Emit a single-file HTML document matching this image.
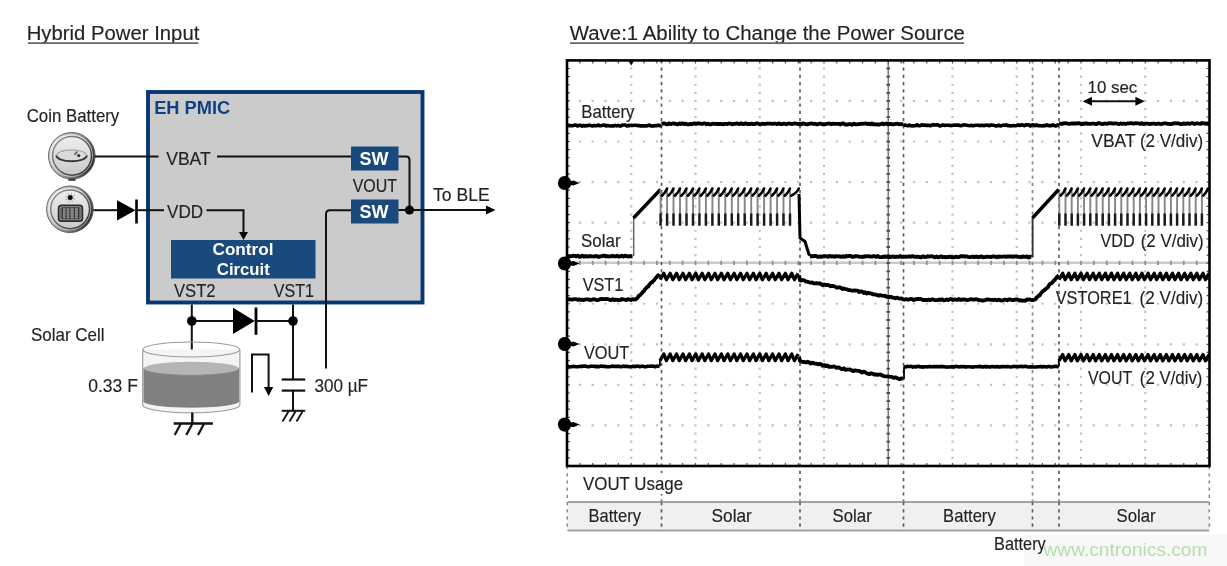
<!DOCTYPE html>
<html><head><meta charset="utf-8"><title>Hybrid Power Input</title>
<style>
html,body{margin:0;padding:0;background:#fff;width:1227px;height:566px;overflow:hidden}
svg{display:block;filter:blur(0.5px)}
text{font-family:"Liberation Sans",sans-serif}
</style></head><body>
<svg width="1227" height="566" viewBox="0 0 1227 566">
<text x="26.7" y="40" font-size="20" fill="#232323" font-weight="normal" text-anchor="start" stroke="#232323" stroke-width="0.15" textLength="172.64" lengthAdjust="spacingAndGlyphs" >Hybrid Power Input</text>
<line x1="28" y1="43.1" x2="198.5" y2="43.1" stroke="#666" stroke-width="1.6" />
<text x="26.66" y="121.6" font-size="17.8" fill="#232323" font-weight="normal" text-anchor="start" stroke="#232323" stroke-width="0.15" textLength="92.62" lengthAdjust="spacingAndGlyphs" >Coin Battery</text>
<rect x="148" y="92" width="274.5" height="210.5" fill="#cbcbcb" stroke="#073875" stroke-width="3.9"/>
<text x="154.2" y="114.3" font-size="18.4" fill="#0f4284" font-weight="bold" text-anchor="start" textLength="76" lengthAdjust="spacingAndGlyphs" >EH PMIC</text>
<defs>
<linearGradient id="ring" x1="0" y1="0.3" x2="1" y2="0.7"><stop offset="0" stop-color="#dedede"/><stop offset="0.5" stop-color="#9a9a9a"/><stop offset="1" stop-color="#262626"/></linearGradient>
<linearGradient id="band" x1="0" y1="0" x2="1" y2="1"><stop offset="0" stop-color="#f6f6f6"/><stop offset="1" stop-color="#bcbcbc"/></linearGradient>
<linearGradient id="iring" x1="0" y1="0" x2="1" y2="1"><stop offset="0" stop-color="#9a9a9a"/><stop offset="1" stop-color="#2a2a2a"/></linearGradient>
<linearGradient id="face" x1="0" y1="0" x2="0" y2="1"><stop offset="0" stop-color="#efefef"/><stop offset="1" stop-color="#c9c9c9"/></linearGradient>
</defs>
<circle cx="71.8" cy="155.8" r="23.3" fill="url(#ring)" stroke="#555" stroke-width="0.9"/>
<circle cx="71.5" cy="155.5" r="21.3" fill="url(#band)"/>
<circle cx="72.0" cy="155.8" r="19.4" fill="url(#face)" stroke="url(#iring)" stroke-width="1.5"/>
<ellipse cx="71.6" cy="155.6" rx="15.2" ry="5.7" fill="#dadada"/>
<path d="M56.4 155.6 A15.2 5.7 0 0 1 86.8 155.6" fill="none" stroke="#9a9a9a" stroke-width="1"/>
<path d="M56.4 155.6 A15.2 5.7 0 0 0 86.8 155.6" fill="none" stroke="#3a3a3a" stroke-width="2"/>
<path d="M74.5 154.8 L77.4 151.5" stroke="#555" stroke-width="1.5"/>
<path d="M62 151 l4 -0.6" stroke="#aaa" stroke-width="1"/>
<circle cx="78.7" cy="155.6" r="1.6" fill="#333"/>
<rect x="68.3" y="178.6" width="7.2" height="2.2" fill="#3a3a3a"/>
<circle cx="69.9" cy="209.3" r="23.3" fill="url(#ring)" stroke="#555" stroke-width="0.9"/>
<circle cx="69.60000000000001" cy="209.0" r="21.3" fill="url(#band)"/>
<circle cx="70.10000000000001" cy="209.3" r="19.4" fill="url(#face)" stroke="url(#iring)" stroke-width="1.5"/>
<rect x="58.6" y="205.4" width="23.8" height="15.8" rx="3" fill="#9c9c9c" stroke="#2a2a2a" stroke-width="1.7"/>
<rect x="61" y="207.7" width="19" height="11.2" rx="1" fill="#8e8e8e" stroke="#444" stroke-width="1"/>
<line x1="62.3" y1="207.7" x2="62.3" y2="218.9" stroke="#2f2f2f" stroke-width="1.1" />
<line x1="66.1" y1="207.7" x2="66.1" y2="218.9" stroke="#2f2f2f" stroke-width="1.1" />
<line x1="69.8" y1="207.7" x2="69.8" y2="218.9" stroke="#2f2f2f" stroke-width="1.1" />
<line x1="74.4" y1="207.7" x2="74.4" y2="218.9" stroke="#2f2f2f" stroke-width="1.1" />
<line x1="78.5" y1="207.7" x2="78.5" y2="218.9" stroke="#2f2f2f" stroke-width="1.1" />
<line x1="61" y1="210.6" x2="80" y2="210.6" stroke="#555" stroke-width="0.6" />
<line x1="61" y1="213.3" x2="80" y2="213.3" stroke="#555" stroke-width="0.6" />
<line x1="61" y1="216.1" x2="80" y2="216.1" stroke="#555" stroke-width="0.6" />
<circle cx="70.2" cy="197.6" r="2.5" fill="#0a0a0a"/>
<line x1="73.25707676520194" y1="198.5456646613163" x2="74.97668244562803" y2="199.07760103330668" stroke="#888" stroke-width="0.8" />
<line x1="71.6929938165369" y1="200.43036560602735" x2="72.53280283833891" y2="202.02244625941773" stroke="#888" stroke-width="0.8" />
<line x1="69.25433533868372" y1="200.65707676520194" x2="68.7223989666933" y2="202.37668244562803" stroke="#888" stroke-width="0.8" />
<line x1="67.36963439397265" y1="199.0929938165369" x2="65.77755374058226" y2="199.93280283833892" stroke="#888" stroke-width="0.8" />
<line x1="67.14292323479806" y1="196.65433533868372" x2="65.42331755437198" y2="196.1223989666933" stroke="#888" stroke-width="0.8" />
<line x1="68.70700618346311" y1="194.76963439397264" x2="67.8671971616611" y2="193.17755374058225" stroke="#888" stroke-width="0.8" />
<line x1="71.14566466131629" y1="194.54292323479805" x2="71.6776010333067" y2="192.82331755437195" stroke="#888" stroke-width="0.8" />
<line x1="73.03036560602736" y1="196.10700618346308" x2="74.62244625941774" y2="195.26719716166107" stroke="#888" stroke-width="0.8" />
<line x1="95" y1="156.5" x2="158.5" y2="156.5" stroke="#111" stroke-width="2" />
<text x="166.22" y="165.2" font-size="17.8" fill="#232323" font-weight="normal" text-anchor="start" stroke="#232323" stroke-width="0.15" textLength="44.5" lengthAdjust="spacingAndGlyphs" >VBAT</text>
<line x1="217" y1="156.5" x2="351" y2="156.5" stroke="#111" stroke-width="2" />
<line x1="93.5" y1="210.2" x2="117" y2="210.2" stroke="#111" stroke-width="2" />
<path d="M117 200.2 L135.5 210.2 L117 220.4 Z" fill="#000"/>
<line x1="136.5" y1="199.5" x2="136.5" y2="223.5" stroke="#000" stroke-width="2.6" />
<line x1="136.5" y1="210.2" x2="164" y2="210.2" stroke="#111" stroke-width="2" />
<text x="167.0" y="217.8" font-size="17.8" fill="#232323" font-weight="normal" text-anchor="start" stroke="#232323" stroke-width="0.15" textLength="36.12" lengthAdjust="spacingAndGlyphs" >VDD</text>
<path d="M206.5 210.2 H243.5 V234" fill="none" stroke="#111" stroke-width="2"/>
<path d="M239 232 L248 232 L243.5 240 Z" fill="#000"/>
<rect x="351" y="146.5" width="47.5" height="24" fill="#1a4a7d"/>
<rect x="351" y="199.5" width="47.5" height="24" fill="#1a4a7d"/>
<text x="374" y="165.4" font-size="18.2" fill="#fff" font-weight="bold" text-anchor="middle" textLength="29" lengthAdjust="spacingAndGlyphs" >SW</text>
<text x="374" y="218.4" font-size="18.2" fill="#fff" font-weight="bold" text-anchor="middle" textLength="29" lengthAdjust="spacingAndGlyphs" >SW</text>
<text x="352.72" y="191.7" font-size="17.8" fill="#232323" font-weight="normal" text-anchor="start" stroke="#232323" stroke-width="0.15" textLength="44.28" lengthAdjust="spacingAndGlyphs" >VOUT</text>
<path d="M398.5 156.6 H406 Q409.5 156.6 409.5 160 V210" fill="none" stroke="#111" stroke-width="2"/>
<circle cx="409.5" cy="210" r="4.6" fill="#000"/>
<line x1="398.5" y1="210" x2="487" y2="210" stroke="#111" stroke-width="2" />
<path d="M486 205.6 L495.5 210 L486 214.4 Z" fill="#000"/>
<text x="433.0" y="201.2" font-size="17.8" fill="#232323" font-weight="normal" text-anchor="start" stroke="#232323" stroke-width="0.15" textLength="56.68" lengthAdjust="spacingAndGlyphs" >To BLE</text>
<path d="M351 210.2 H330 Q326 210.2 326 214 V368.5" fill="none" stroke="#111" stroke-width="2"/>
<rect x="171" y="240" width="144.5" height="38.5" fill="#1a4a7d"/>
<text x="243" y="254.7" font-size="17.4" fill="#fff" font-weight="bold" text-anchor="middle" textLength="61" lengthAdjust="spacingAndGlyphs" >Control</text>
<text x="243.3" y="274.5" font-size="17.4" fill="#fff" font-weight="bold" text-anchor="middle" textLength="53" lengthAdjust="spacingAndGlyphs" >Circuit</text>
<text x="173.94" y="297" font-size="17.8" fill="#232323" font-weight="normal" text-anchor="start" stroke="#232323" stroke-width="0.15" textLength="41.62" lengthAdjust="spacingAndGlyphs" >VST2</text>
<text x="273.72" y="297" font-size="17.8" fill="#232323" font-weight="normal" text-anchor="start" stroke="#232323" stroke-width="0.15" textLength="40.18" lengthAdjust="spacingAndGlyphs" >VST1</text>
<line x1="191.8" y1="304.5" x2="191.8" y2="352" stroke="#111" stroke-width="2" />
<line x1="293" y1="304.5" x2="293" y2="379.5" stroke="#111" stroke-width="2" />
<line x1="191.8" y1="321" x2="233" y2="321" stroke="#111" stroke-width="2" />
<path d="M233 307.8 L254.8 321 L233 334 Z" fill="#000"/>
<line x1="256" y1="307.5" x2="256" y2="334.8" stroke="#000" stroke-width="2.8" />
<line x1="256" y1="321" x2="293" y2="321" stroke="#111" stroke-width="2" />
<circle cx="191.8" cy="321" r="4.8" fill="#000"/>
<circle cx="293" cy="321" r="4.8" fill="#000"/>
<text x="31.04" y="341" font-size="17.8" fill="#232323" font-weight="normal" text-anchor="start" stroke="#232323" stroke-width="0.15" textLength="73.58" lengthAdjust="spacingAndGlyphs" >Solar Cell</text>
<text x="88.22" y="391.8" font-size="17.8" fill="#232323" font-weight="normal" text-anchor="start" stroke="#232323" stroke-width="0.15" textLength="49.68" lengthAdjust="spacingAndGlyphs" >0.33 F</text>
<text x="314.54" y="391.5" font-size="17.8" fill="#232323" font-weight="normal" text-anchor="start" stroke="#232323" stroke-width="0.15" textLength="53.52" lengthAdjust="spacingAndGlyphs" >300 µF</text>
<path d="M142.70000000000002 349.5 V405 A48.6 7.8 0 0 0 239.9 405 V349.5" fill="#f4f4f4" stroke="#9a9a9a" stroke-width="1.1"/>
<path d="M143.50000000000003 368.5 V401 A47.800000000000004 6.2 0 0 0 239.1 401 V368.5 Z" fill="#808080"/>
<ellipse cx="191.3" cy="368.5" rx="47.800000000000004" ry="6.8" fill="#b5b5b5"/>
<path d="M143.50000000000003 368.5 A47.800000000000004 6.8 0 0 0 239.1 368.5" fill="none" stroke="#8a8a8a" stroke-width="1"/>
<path d="M143.50000000000003 401 A47.800000000000004 6.2 0 0 0 239.1 401" fill="none" stroke="#777" stroke-width="0.8"/>
<ellipse cx="191.3" cy="349.5" rx="48.6" ry="7.5" fill="none" stroke="#9a9a9a" stroke-width="1.1"/>
<line x1="192.3" y1="412.5" x2="192.3" y2="423.5" stroke="#111" stroke-width="2.4" />
<line x1="173.7" y1="423.5" x2="212.9" y2="423.5" stroke="#111" stroke-width="2.4" />
<line x1="180.6" y1="424" x2="174.7" y2="435.1" stroke="#111" stroke-width="2.2" />
<line x1="192.2" y1="424" x2="186.29999999999998" y2="435.1" stroke="#111" stroke-width="2.2" />
<line x1="203.9" y1="424" x2="198.0" y2="435.1" stroke="#111" stroke-width="2.2" />
<path d="M252 392.5 V354.5 H268.6 V388" fill="none" stroke="#111" stroke-width="2"/>
<path d="M264 387 L273.2 387 L268.6 396 Z" fill="#000"/>
<line x1="281.7" y1="379.5" x2="305.2" y2="379.5" stroke="#111" stroke-width="2.2" />
<line x1="281.7" y1="390.6" x2="305.2" y2="390.6" stroke="#111" stroke-width="2.2" />
<line x1="293" y1="390.6" x2="293" y2="410.8" stroke="#111" stroke-width="2" />
<line x1="281.7" y1="410.8" x2="305.2" y2="410.8" stroke="#111" stroke-width="2" />
<line x1="288.5" y1="411.5" x2="282.5" y2="421.5" stroke="#111" stroke-width="1.8" />
<line x1="295.5" y1="411.5" x2="289.5" y2="421.5" stroke="#111" stroke-width="1.8" />
<line x1="302.5" y1="411.5" x2="296.5" y2="421.5" stroke="#111" stroke-width="1.8" />
<text x="569.72" y="40" font-size="20" fill="#232323" font-weight="normal" text-anchor="start" stroke="#232323" stroke-width="0.15" textLength="395.24" lengthAdjust="spacingAndGlyphs" >Wave:1 Ability to Change the Power Source</text>
<line x1="570" y1="43.1" x2="964" y2="43.1" stroke="#666" stroke-width="1.6" />
<path d="M630.15 67.41h2.2v2.2h-2.2zM630.15 75.52h2.2v2.2h-2.2zM630.15 83.64h2.2v2.2h-2.2zM630.15 91.75h2.2v2.2h-2.2zM630.15 99.86h2.2v2.2h-2.2zM630.15 107.97h2.2v2.2h-2.2zM630.15 116.08h2.2v2.2h-2.2zM630.15 124.20h2.2v2.2h-2.2zM630.15 132.31h2.2v2.2h-2.2zM630.15 140.42h2.2v2.2h-2.2zM630.15 148.53h2.2v2.2h-2.2zM630.15 156.64h2.2v2.2h-2.2zM630.15 164.76h2.2v2.2h-2.2zM630.15 172.87h2.2v2.2h-2.2zM630.15 180.98h2.2v2.2h-2.2zM630.15 189.09h2.2v2.2h-2.2zM630.15 197.20h2.2v2.2h-2.2zM630.15 205.32h2.2v2.2h-2.2zM630.15 213.43h2.2v2.2h-2.2zM630.15 221.54h2.2v2.2h-2.2zM630.15 229.65h2.2v2.2h-2.2zM630.15 237.76h2.2v2.2h-2.2zM630.15 245.88h2.2v2.2h-2.2zM630.15 253.99h2.2v2.2h-2.2zM630.15 262.10h2.2v2.2h-2.2zM630.15 270.21h2.2v2.2h-2.2zM630.15 278.32h2.2v2.2h-2.2zM630.15 286.44h2.2v2.2h-2.2zM630.15 294.55h2.2v2.2h-2.2zM630.15 302.66h2.2v2.2h-2.2zM630.15 310.77h2.2v2.2h-2.2zM630.15 318.88h2.2v2.2h-2.2zM630.15 327.00h2.2v2.2h-2.2zM630.15 335.11h2.2v2.2h-2.2zM630.15 343.22h2.2v2.2h-2.2zM630.15 351.33h2.2v2.2h-2.2zM630.15 359.44h2.2v2.2h-2.2zM630.15 367.56h2.2v2.2h-2.2zM630.15 375.67h2.2v2.2h-2.2zM630.15 383.78h2.2v2.2h-2.2zM630.15 391.89h2.2v2.2h-2.2zM630.15 400.00h2.2v2.2h-2.2zM630.15 408.12h2.2v2.2h-2.2zM630.15 416.23h2.2v2.2h-2.2zM630.15 424.34h2.2v2.2h-2.2zM630.15 432.45h2.2v2.2h-2.2zM630.15 440.56h2.2v2.2h-2.2zM630.15 448.68h2.2v2.2h-2.2zM630.15 456.79h2.2v2.2h-2.2zM694.40 67.41h2.2v2.2h-2.2zM694.40 75.52h2.2v2.2h-2.2zM694.40 83.64h2.2v2.2h-2.2zM694.40 91.75h2.2v2.2h-2.2zM694.40 99.86h2.2v2.2h-2.2zM694.40 107.97h2.2v2.2h-2.2zM694.40 116.08h2.2v2.2h-2.2zM694.40 124.20h2.2v2.2h-2.2zM694.40 132.31h2.2v2.2h-2.2zM694.40 140.42h2.2v2.2h-2.2zM694.40 148.53h2.2v2.2h-2.2zM694.40 156.64h2.2v2.2h-2.2zM694.40 164.76h2.2v2.2h-2.2zM694.40 172.87h2.2v2.2h-2.2zM694.40 180.98h2.2v2.2h-2.2zM694.40 189.09h2.2v2.2h-2.2zM694.40 197.20h2.2v2.2h-2.2zM694.40 205.32h2.2v2.2h-2.2zM694.40 213.43h2.2v2.2h-2.2zM694.40 221.54h2.2v2.2h-2.2zM694.40 229.65h2.2v2.2h-2.2zM694.40 237.76h2.2v2.2h-2.2zM694.40 245.88h2.2v2.2h-2.2zM694.40 253.99h2.2v2.2h-2.2zM694.40 262.10h2.2v2.2h-2.2zM694.40 270.21h2.2v2.2h-2.2zM694.40 278.32h2.2v2.2h-2.2zM694.40 286.44h2.2v2.2h-2.2zM694.40 294.55h2.2v2.2h-2.2zM694.40 302.66h2.2v2.2h-2.2zM694.40 310.77h2.2v2.2h-2.2zM694.40 318.88h2.2v2.2h-2.2zM694.40 327.00h2.2v2.2h-2.2zM694.40 335.11h2.2v2.2h-2.2zM694.40 343.22h2.2v2.2h-2.2zM694.40 351.33h2.2v2.2h-2.2zM694.40 359.44h2.2v2.2h-2.2zM694.40 367.56h2.2v2.2h-2.2zM694.40 375.67h2.2v2.2h-2.2zM694.40 383.78h2.2v2.2h-2.2zM694.40 391.89h2.2v2.2h-2.2zM694.40 400.00h2.2v2.2h-2.2zM694.40 408.12h2.2v2.2h-2.2zM694.40 416.23h2.2v2.2h-2.2zM694.40 424.34h2.2v2.2h-2.2zM694.40 432.45h2.2v2.2h-2.2zM694.40 440.56h2.2v2.2h-2.2zM694.40 448.68h2.2v2.2h-2.2zM694.40 456.79h2.2v2.2h-2.2zM758.65 67.41h2.2v2.2h-2.2zM758.65 75.52h2.2v2.2h-2.2zM758.65 83.64h2.2v2.2h-2.2zM758.65 91.75h2.2v2.2h-2.2zM758.65 99.86h2.2v2.2h-2.2zM758.65 107.97h2.2v2.2h-2.2zM758.65 116.08h2.2v2.2h-2.2zM758.65 124.20h2.2v2.2h-2.2zM758.65 132.31h2.2v2.2h-2.2zM758.65 140.42h2.2v2.2h-2.2zM758.65 148.53h2.2v2.2h-2.2zM758.65 156.64h2.2v2.2h-2.2zM758.65 164.76h2.2v2.2h-2.2zM758.65 172.87h2.2v2.2h-2.2zM758.65 180.98h2.2v2.2h-2.2zM758.65 189.09h2.2v2.2h-2.2zM758.65 197.20h2.2v2.2h-2.2zM758.65 205.32h2.2v2.2h-2.2zM758.65 213.43h2.2v2.2h-2.2zM758.65 221.54h2.2v2.2h-2.2zM758.65 229.65h2.2v2.2h-2.2zM758.65 237.76h2.2v2.2h-2.2zM758.65 245.88h2.2v2.2h-2.2zM758.65 253.99h2.2v2.2h-2.2zM758.65 262.10h2.2v2.2h-2.2zM758.65 270.21h2.2v2.2h-2.2zM758.65 278.32h2.2v2.2h-2.2zM758.65 286.44h2.2v2.2h-2.2zM758.65 294.55h2.2v2.2h-2.2zM758.65 302.66h2.2v2.2h-2.2zM758.65 310.77h2.2v2.2h-2.2zM758.65 318.88h2.2v2.2h-2.2zM758.65 327.00h2.2v2.2h-2.2zM758.65 335.11h2.2v2.2h-2.2zM758.65 343.22h2.2v2.2h-2.2zM758.65 351.33h2.2v2.2h-2.2zM758.65 359.44h2.2v2.2h-2.2zM758.65 367.56h2.2v2.2h-2.2zM758.65 375.67h2.2v2.2h-2.2zM758.65 383.78h2.2v2.2h-2.2zM758.65 391.89h2.2v2.2h-2.2zM758.65 400.00h2.2v2.2h-2.2zM758.65 408.12h2.2v2.2h-2.2zM758.65 416.23h2.2v2.2h-2.2zM758.65 424.34h2.2v2.2h-2.2zM758.65 432.45h2.2v2.2h-2.2zM758.65 440.56h2.2v2.2h-2.2zM758.65 448.68h2.2v2.2h-2.2zM758.65 456.79h2.2v2.2h-2.2zM822.90 67.41h2.2v2.2h-2.2zM822.90 75.52h2.2v2.2h-2.2zM822.90 83.64h2.2v2.2h-2.2zM822.90 91.75h2.2v2.2h-2.2zM822.90 99.86h2.2v2.2h-2.2zM822.90 107.97h2.2v2.2h-2.2zM822.90 116.08h2.2v2.2h-2.2zM822.90 124.20h2.2v2.2h-2.2zM822.90 132.31h2.2v2.2h-2.2zM822.90 140.42h2.2v2.2h-2.2zM822.90 148.53h2.2v2.2h-2.2zM822.90 156.64h2.2v2.2h-2.2zM822.90 164.76h2.2v2.2h-2.2zM822.90 172.87h2.2v2.2h-2.2zM822.90 180.98h2.2v2.2h-2.2zM822.90 189.09h2.2v2.2h-2.2zM822.90 197.20h2.2v2.2h-2.2zM822.90 205.32h2.2v2.2h-2.2zM822.90 213.43h2.2v2.2h-2.2zM822.90 221.54h2.2v2.2h-2.2zM822.90 229.65h2.2v2.2h-2.2zM822.90 237.76h2.2v2.2h-2.2zM822.90 245.88h2.2v2.2h-2.2zM822.90 253.99h2.2v2.2h-2.2zM822.90 262.10h2.2v2.2h-2.2zM822.90 270.21h2.2v2.2h-2.2zM822.90 278.32h2.2v2.2h-2.2zM822.90 286.44h2.2v2.2h-2.2zM822.90 294.55h2.2v2.2h-2.2zM822.90 302.66h2.2v2.2h-2.2zM822.90 310.77h2.2v2.2h-2.2zM822.90 318.88h2.2v2.2h-2.2zM822.90 327.00h2.2v2.2h-2.2zM822.90 335.11h2.2v2.2h-2.2zM822.90 343.22h2.2v2.2h-2.2zM822.90 351.33h2.2v2.2h-2.2zM822.90 359.44h2.2v2.2h-2.2zM822.90 367.56h2.2v2.2h-2.2zM822.90 375.67h2.2v2.2h-2.2zM822.90 383.78h2.2v2.2h-2.2zM822.90 391.89h2.2v2.2h-2.2zM822.90 400.00h2.2v2.2h-2.2zM822.90 408.12h2.2v2.2h-2.2zM822.90 416.23h2.2v2.2h-2.2zM822.90 424.34h2.2v2.2h-2.2zM822.90 432.45h2.2v2.2h-2.2zM822.90 440.56h2.2v2.2h-2.2zM822.90 448.68h2.2v2.2h-2.2zM822.90 456.79h2.2v2.2h-2.2zM951.40 67.41h2.2v2.2h-2.2zM951.40 75.52h2.2v2.2h-2.2zM951.40 83.64h2.2v2.2h-2.2zM951.40 91.75h2.2v2.2h-2.2zM951.40 99.86h2.2v2.2h-2.2zM951.40 107.97h2.2v2.2h-2.2zM951.40 116.08h2.2v2.2h-2.2zM951.40 124.20h2.2v2.2h-2.2zM951.40 132.31h2.2v2.2h-2.2zM951.40 140.42h2.2v2.2h-2.2zM951.40 148.53h2.2v2.2h-2.2zM951.40 156.64h2.2v2.2h-2.2zM951.40 164.76h2.2v2.2h-2.2zM951.40 172.87h2.2v2.2h-2.2zM951.40 180.98h2.2v2.2h-2.2zM951.40 189.09h2.2v2.2h-2.2zM951.40 197.20h2.2v2.2h-2.2zM951.40 205.32h2.2v2.2h-2.2zM951.40 213.43h2.2v2.2h-2.2zM951.40 221.54h2.2v2.2h-2.2zM951.40 229.65h2.2v2.2h-2.2zM951.40 237.76h2.2v2.2h-2.2zM951.40 245.88h2.2v2.2h-2.2zM951.40 253.99h2.2v2.2h-2.2zM951.40 262.10h2.2v2.2h-2.2zM951.40 270.21h2.2v2.2h-2.2zM951.40 278.32h2.2v2.2h-2.2zM951.40 286.44h2.2v2.2h-2.2zM951.40 294.55h2.2v2.2h-2.2zM951.40 302.66h2.2v2.2h-2.2zM951.40 310.77h2.2v2.2h-2.2zM951.40 318.88h2.2v2.2h-2.2zM951.40 327.00h2.2v2.2h-2.2zM951.40 335.11h2.2v2.2h-2.2zM951.40 343.22h2.2v2.2h-2.2zM951.40 351.33h2.2v2.2h-2.2zM951.40 359.44h2.2v2.2h-2.2zM951.40 367.56h2.2v2.2h-2.2zM951.40 375.67h2.2v2.2h-2.2zM951.40 383.78h2.2v2.2h-2.2zM951.40 391.89h2.2v2.2h-2.2zM951.40 400.00h2.2v2.2h-2.2zM951.40 408.12h2.2v2.2h-2.2zM951.40 416.23h2.2v2.2h-2.2zM951.40 424.34h2.2v2.2h-2.2zM951.40 432.45h2.2v2.2h-2.2zM951.40 440.56h2.2v2.2h-2.2zM951.40 448.68h2.2v2.2h-2.2zM951.40 456.79h2.2v2.2h-2.2zM1015.65 67.41h2.2v2.2h-2.2zM1015.65 75.52h2.2v2.2h-2.2zM1015.65 83.64h2.2v2.2h-2.2zM1015.65 91.75h2.2v2.2h-2.2zM1015.65 99.86h2.2v2.2h-2.2zM1015.65 107.97h2.2v2.2h-2.2zM1015.65 116.08h2.2v2.2h-2.2zM1015.65 124.20h2.2v2.2h-2.2zM1015.65 132.31h2.2v2.2h-2.2zM1015.65 140.42h2.2v2.2h-2.2zM1015.65 148.53h2.2v2.2h-2.2zM1015.65 156.64h2.2v2.2h-2.2zM1015.65 164.76h2.2v2.2h-2.2zM1015.65 172.87h2.2v2.2h-2.2zM1015.65 180.98h2.2v2.2h-2.2zM1015.65 189.09h2.2v2.2h-2.2zM1015.65 197.20h2.2v2.2h-2.2zM1015.65 205.32h2.2v2.2h-2.2zM1015.65 213.43h2.2v2.2h-2.2zM1015.65 221.54h2.2v2.2h-2.2zM1015.65 229.65h2.2v2.2h-2.2zM1015.65 237.76h2.2v2.2h-2.2zM1015.65 245.88h2.2v2.2h-2.2zM1015.65 253.99h2.2v2.2h-2.2zM1015.65 262.10h2.2v2.2h-2.2zM1015.65 270.21h2.2v2.2h-2.2zM1015.65 278.32h2.2v2.2h-2.2zM1015.65 286.44h2.2v2.2h-2.2zM1015.65 294.55h2.2v2.2h-2.2zM1015.65 302.66h2.2v2.2h-2.2zM1015.65 310.77h2.2v2.2h-2.2zM1015.65 318.88h2.2v2.2h-2.2zM1015.65 327.00h2.2v2.2h-2.2zM1015.65 335.11h2.2v2.2h-2.2zM1015.65 343.22h2.2v2.2h-2.2zM1015.65 351.33h2.2v2.2h-2.2zM1015.65 359.44h2.2v2.2h-2.2zM1015.65 367.56h2.2v2.2h-2.2zM1015.65 375.67h2.2v2.2h-2.2zM1015.65 383.78h2.2v2.2h-2.2zM1015.65 391.89h2.2v2.2h-2.2zM1015.65 400.00h2.2v2.2h-2.2zM1015.65 408.12h2.2v2.2h-2.2zM1015.65 416.23h2.2v2.2h-2.2zM1015.65 424.34h2.2v2.2h-2.2zM1015.65 432.45h2.2v2.2h-2.2zM1015.65 440.56h2.2v2.2h-2.2zM1015.65 448.68h2.2v2.2h-2.2zM1015.65 456.79h2.2v2.2h-2.2zM1079.90 67.41h2.2v2.2h-2.2zM1079.90 75.52h2.2v2.2h-2.2zM1079.90 83.64h2.2v2.2h-2.2zM1079.90 91.75h2.2v2.2h-2.2zM1079.90 99.86h2.2v2.2h-2.2zM1079.90 107.97h2.2v2.2h-2.2zM1079.90 116.08h2.2v2.2h-2.2zM1079.90 124.20h2.2v2.2h-2.2zM1079.90 132.31h2.2v2.2h-2.2zM1079.90 140.42h2.2v2.2h-2.2zM1079.90 148.53h2.2v2.2h-2.2zM1079.90 156.64h2.2v2.2h-2.2zM1079.90 164.76h2.2v2.2h-2.2zM1079.90 172.87h2.2v2.2h-2.2zM1079.90 180.98h2.2v2.2h-2.2zM1079.90 189.09h2.2v2.2h-2.2zM1079.90 197.20h2.2v2.2h-2.2zM1079.90 205.32h2.2v2.2h-2.2zM1079.90 213.43h2.2v2.2h-2.2zM1079.90 221.54h2.2v2.2h-2.2zM1079.90 229.65h2.2v2.2h-2.2zM1079.90 237.76h2.2v2.2h-2.2zM1079.90 245.88h2.2v2.2h-2.2zM1079.90 253.99h2.2v2.2h-2.2zM1079.90 262.10h2.2v2.2h-2.2zM1079.90 270.21h2.2v2.2h-2.2zM1079.90 278.32h2.2v2.2h-2.2zM1079.90 286.44h2.2v2.2h-2.2zM1079.90 294.55h2.2v2.2h-2.2zM1079.90 302.66h2.2v2.2h-2.2zM1079.90 310.77h2.2v2.2h-2.2zM1079.90 318.88h2.2v2.2h-2.2zM1079.90 327.00h2.2v2.2h-2.2zM1079.90 335.11h2.2v2.2h-2.2zM1079.90 343.22h2.2v2.2h-2.2zM1079.90 351.33h2.2v2.2h-2.2zM1079.90 359.44h2.2v2.2h-2.2zM1079.90 367.56h2.2v2.2h-2.2zM1079.90 375.67h2.2v2.2h-2.2zM1079.90 383.78h2.2v2.2h-2.2zM1079.90 391.89h2.2v2.2h-2.2zM1079.90 400.00h2.2v2.2h-2.2zM1079.90 408.12h2.2v2.2h-2.2zM1079.90 416.23h2.2v2.2h-2.2zM1079.90 424.34h2.2v2.2h-2.2zM1079.90 432.45h2.2v2.2h-2.2zM1079.90 440.56h2.2v2.2h-2.2zM1079.90 448.68h2.2v2.2h-2.2zM1079.90 456.79h2.2v2.2h-2.2zM1144.15 67.41h2.2v2.2h-2.2zM1144.15 75.52h2.2v2.2h-2.2zM1144.15 83.64h2.2v2.2h-2.2zM1144.15 91.75h2.2v2.2h-2.2zM1144.15 99.86h2.2v2.2h-2.2zM1144.15 107.97h2.2v2.2h-2.2zM1144.15 116.08h2.2v2.2h-2.2zM1144.15 124.20h2.2v2.2h-2.2zM1144.15 132.31h2.2v2.2h-2.2zM1144.15 140.42h2.2v2.2h-2.2zM1144.15 148.53h2.2v2.2h-2.2zM1144.15 156.64h2.2v2.2h-2.2zM1144.15 164.76h2.2v2.2h-2.2zM1144.15 172.87h2.2v2.2h-2.2zM1144.15 180.98h2.2v2.2h-2.2zM1144.15 189.09h2.2v2.2h-2.2zM1144.15 197.20h2.2v2.2h-2.2zM1144.15 205.32h2.2v2.2h-2.2zM1144.15 213.43h2.2v2.2h-2.2zM1144.15 221.54h2.2v2.2h-2.2zM1144.15 229.65h2.2v2.2h-2.2zM1144.15 237.76h2.2v2.2h-2.2zM1144.15 245.88h2.2v2.2h-2.2zM1144.15 253.99h2.2v2.2h-2.2zM1144.15 262.10h2.2v2.2h-2.2zM1144.15 270.21h2.2v2.2h-2.2zM1144.15 278.32h2.2v2.2h-2.2zM1144.15 286.44h2.2v2.2h-2.2zM1144.15 294.55h2.2v2.2h-2.2zM1144.15 302.66h2.2v2.2h-2.2zM1144.15 310.77h2.2v2.2h-2.2zM1144.15 318.88h2.2v2.2h-2.2zM1144.15 327.00h2.2v2.2h-2.2zM1144.15 335.11h2.2v2.2h-2.2zM1144.15 343.22h2.2v2.2h-2.2zM1144.15 351.33h2.2v2.2h-2.2zM1144.15 359.44h2.2v2.2h-2.2zM1144.15 367.56h2.2v2.2h-2.2zM1144.15 375.67h2.2v2.2h-2.2zM1144.15 383.78h2.2v2.2h-2.2zM1144.15 391.89h2.2v2.2h-2.2zM1144.15 400.00h2.2v2.2h-2.2zM1144.15 408.12h2.2v2.2h-2.2zM1144.15 416.23h2.2v2.2h-2.2zM1144.15 424.34h2.2v2.2h-2.2zM1144.15 432.45h2.2v2.2h-2.2zM1144.15 440.56h2.2v2.2h-2.2zM1144.15 448.68h2.2v2.2h-2.2zM1144.15 456.79h2.2v2.2h-2.2zM578.75 99.86h2.2v2.2h-2.2zM591.60 99.86h2.2v2.2h-2.2zM604.45 99.86h2.2v2.2h-2.2zM617.30 99.86h2.2v2.2h-2.2zM630.15 99.86h2.2v2.2h-2.2zM643.00 99.86h2.2v2.2h-2.2zM655.85 99.86h2.2v2.2h-2.2zM668.70 99.86h2.2v2.2h-2.2zM681.55 99.86h2.2v2.2h-2.2zM694.40 99.86h2.2v2.2h-2.2zM707.25 99.86h2.2v2.2h-2.2zM720.10 99.86h2.2v2.2h-2.2zM732.95 99.86h2.2v2.2h-2.2zM745.80 99.86h2.2v2.2h-2.2zM758.65 99.86h2.2v2.2h-2.2zM771.50 99.86h2.2v2.2h-2.2zM784.35 99.86h2.2v2.2h-2.2zM797.20 99.86h2.2v2.2h-2.2zM810.05 99.86h2.2v2.2h-2.2zM822.90 99.86h2.2v2.2h-2.2zM835.75 99.86h2.2v2.2h-2.2zM848.60 99.86h2.2v2.2h-2.2zM861.45 99.86h2.2v2.2h-2.2zM874.30 99.86h2.2v2.2h-2.2zM887.15 99.86h2.2v2.2h-2.2zM900.00 99.86h2.2v2.2h-2.2zM912.85 99.86h2.2v2.2h-2.2zM925.70 99.86h2.2v2.2h-2.2zM938.55 99.86h2.2v2.2h-2.2zM951.40 99.86h2.2v2.2h-2.2zM964.25 99.86h2.2v2.2h-2.2zM977.10 99.86h2.2v2.2h-2.2zM989.95 99.86h2.2v2.2h-2.2zM1002.80 99.86h2.2v2.2h-2.2zM1015.65 99.86h2.2v2.2h-2.2zM1028.50 99.86h2.2v2.2h-2.2zM1041.35 99.86h2.2v2.2h-2.2zM1054.20 99.86h2.2v2.2h-2.2zM1067.05 99.86h2.2v2.2h-2.2zM1079.90 99.86h2.2v2.2h-2.2zM1092.75 99.86h2.2v2.2h-2.2zM1105.60 99.86h2.2v2.2h-2.2zM1118.45 99.86h2.2v2.2h-2.2zM1131.30 99.86h2.2v2.2h-2.2zM1144.15 99.86h2.2v2.2h-2.2zM1157.00 99.86h2.2v2.2h-2.2zM1169.85 99.86h2.2v2.2h-2.2zM1182.70 99.86h2.2v2.2h-2.2zM1195.55 99.86h2.2v2.2h-2.2zM578.75 140.42h2.2v2.2h-2.2zM591.60 140.42h2.2v2.2h-2.2zM604.45 140.42h2.2v2.2h-2.2zM617.30 140.42h2.2v2.2h-2.2zM630.15 140.42h2.2v2.2h-2.2zM643.00 140.42h2.2v2.2h-2.2zM655.85 140.42h2.2v2.2h-2.2zM668.70 140.42h2.2v2.2h-2.2zM681.55 140.42h2.2v2.2h-2.2zM694.40 140.42h2.2v2.2h-2.2zM707.25 140.42h2.2v2.2h-2.2zM720.10 140.42h2.2v2.2h-2.2zM732.95 140.42h2.2v2.2h-2.2zM745.80 140.42h2.2v2.2h-2.2zM758.65 140.42h2.2v2.2h-2.2zM771.50 140.42h2.2v2.2h-2.2zM784.35 140.42h2.2v2.2h-2.2zM797.20 140.42h2.2v2.2h-2.2zM810.05 140.42h2.2v2.2h-2.2zM822.90 140.42h2.2v2.2h-2.2zM835.75 140.42h2.2v2.2h-2.2zM848.60 140.42h2.2v2.2h-2.2zM861.45 140.42h2.2v2.2h-2.2zM874.30 140.42h2.2v2.2h-2.2zM887.15 140.42h2.2v2.2h-2.2zM900.00 140.42h2.2v2.2h-2.2zM912.85 140.42h2.2v2.2h-2.2zM925.70 140.42h2.2v2.2h-2.2zM938.55 140.42h2.2v2.2h-2.2zM951.40 140.42h2.2v2.2h-2.2zM964.25 140.42h2.2v2.2h-2.2zM977.10 140.42h2.2v2.2h-2.2zM989.95 140.42h2.2v2.2h-2.2zM1002.80 140.42h2.2v2.2h-2.2zM1015.65 140.42h2.2v2.2h-2.2zM1028.50 140.42h2.2v2.2h-2.2zM1041.35 140.42h2.2v2.2h-2.2zM1054.20 140.42h2.2v2.2h-2.2zM1067.05 140.42h2.2v2.2h-2.2zM1079.90 140.42h2.2v2.2h-2.2zM1092.75 140.42h2.2v2.2h-2.2zM1105.60 140.42h2.2v2.2h-2.2zM1118.45 140.42h2.2v2.2h-2.2zM1131.30 140.42h2.2v2.2h-2.2zM1144.15 140.42h2.2v2.2h-2.2zM1157.00 140.42h2.2v2.2h-2.2zM1169.85 140.42h2.2v2.2h-2.2zM1182.70 140.42h2.2v2.2h-2.2zM1195.55 140.42h2.2v2.2h-2.2zM578.75 180.98h2.2v2.2h-2.2zM591.60 180.98h2.2v2.2h-2.2zM604.45 180.98h2.2v2.2h-2.2zM617.30 180.98h2.2v2.2h-2.2zM630.15 180.98h2.2v2.2h-2.2zM643.00 180.98h2.2v2.2h-2.2zM655.85 180.98h2.2v2.2h-2.2zM668.70 180.98h2.2v2.2h-2.2zM681.55 180.98h2.2v2.2h-2.2zM694.40 180.98h2.2v2.2h-2.2zM707.25 180.98h2.2v2.2h-2.2zM720.10 180.98h2.2v2.2h-2.2zM732.95 180.98h2.2v2.2h-2.2zM745.80 180.98h2.2v2.2h-2.2zM758.65 180.98h2.2v2.2h-2.2zM771.50 180.98h2.2v2.2h-2.2zM784.35 180.98h2.2v2.2h-2.2zM797.20 180.98h2.2v2.2h-2.2zM810.05 180.98h2.2v2.2h-2.2zM822.90 180.98h2.2v2.2h-2.2zM835.75 180.98h2.2v2.2h-2.2zM848.60 180.98h2.2v2.2h-2.2zM861.45 180.98h2.2v2.2h-2.2zM874.30 180.98h2.2v2.2h-2.2zM887.15 180.98h2.2v2.2h-2.2zM900.00 180.98h2.2v2.2h-2.2zM912.85 180.98h2.2v2.2h-2.2zM925.70 180.98h2.2v2.2h-2.2zM938.55 180.98h2.2v2.2h-2.2zM951.40 180.98h2.2v2.2h-2.2zM964.25 180.98h2.2v2.2h-2.2zM977.10 180.98h2.2v2.2h-2.2zM989.95 180.98h2.2v2.2h-2.2zM1002.80 180.98h2.2v2.2h-2.2zM1015.65 180.98h2.2v2.2h-2.2zM1028.50 180.98h2.2v2.2h-2.2zM1041.35 180.98h2.2v2.2h-2.2zM1054.20 180.98h2.2v2.2h-2.2zM1067.05 180.98h2.2v2.2h-2.2zM1079.90 180.98h2.2v2.2h-2.2zM1092.75 180.98h2.2v2.2h-2.2zM1105.60 180.98h2.2v2.2h-2.2zM1118.45 180.98h2.2v2.2h-2.2zM1131.30 180.98h2.2v2.2h-2.2zM1144.15 180.98h2.2v2.2h-2.2zM1157.00 180.98h2.2v2.2h-2.2zM1169.85 180.98h2.2v2.2h-2.2zM1182.70 180.98h2.2v2.2h-2.2zM1195.55 180.98h2.2v2.2h-2.2zM578.75 221.54h2.2v2.2h-2.2zM591.60 221.54h2.2v2.2h-2.2zM604.45 221.54h2.2v2.2h-2.2zM617.30 221.54h2.2v2.2h-2.2zM630.15 221.54h2.2v2.2h-2.2zM643.00 221.54h2.2v2.2h-2.2zM655.85 221.54h2.2v2.2h-2.2zM668.70 221.54h2.2v2.2h-2.2zM681.55 221.54h2.2v2.2h-2.2zM694.40 221.54h2.2v2.2h-2.2zM707.25 221.54h2.2v2.2h-2.2zM720.10 221.54h2.2v2.2h-2.2zM732.95 221.54h2.2v2.2h-2.2zM745.80 221.54h2.2v2.2h-2.2zM758.65 221.54h2.2v2.2h-2.2zM771.50 221.54h2.2v2.2h-2.2zM784.35 221.54h2.2v2.2h-2.2zM797.20 221.54h2.2v2.2h-2.2zM810.05 221.54h2.2v2.2h-2.2zM822.90 221.54h2.2v2.2h-2.2zM835.75 221.54h2.2v2.2h-2.2zM848.60 221.54h2.2v2.2h-2.2zM861.45 221.54h2.2v2.2h-2.2zM874.30 221.54h2.2v2.2h-2.2zM887.15 221.54h2.2v2.2h-2.2zM900.00 221.54h2.2v2.2h-2.2zM912.85 221.54h2.2v2.2h-2.2zM925.70 221.54h2.2v2.2h-2.2zM938.55 221.54h2.2v2.2h-2.2zM951.40 221.54h2.2v2.2h-2.2zM964.25 221.54h2.2v2.2h-2.2zM977.10 221.54h2.2v2.2h-2.2zM989.95 221.54h2.2v2.2h-2.2zM1002.80 221.54h2.2v2.2h-2.2zM1015.65 221.54h2.2v2.2h-2.2zM1028.50 221.54h2.2v2.2h-2.2zM1041.35 221.54h2.2v2.2h-2.2zM1054.20 221.54h2.2v2.2h-2.2zM1067.05 221.54h2.2v2.2h-2.2zM1079.90 221.54h2.2v2.2h-2.2zM1092.75 221.54h2.2v2.2h-2.2zM1105.60 221.54h2.2v2.2h-2.2zM1118.45 221.54h2.2v2.2h-2.2zM1131.30 221.54h2.2v2.2h-2.2zM1144.15 221.54h2.2v2.2h-2.2zM1157.00 221.54h2.2v2.2h-2.2zM1169.85 221.54h2.2v2.2h-2.2zM1182.70 221.54h2.2v2.2h-2.2zM1195.55 221.54h2.2v2.2h-2.2zM578.75 302.66h2.2v2.2h-2.2zM591.60 302.66h2.2v2.2h-2.2zM604.45 302.66h2.2v2.2h-2.2zM617.30 302.66h2.2v2.2h-2.2zM630.15 302.66h2.2v2.2h-2.2zM643.00 302.66h2.2v2.2h-2.2zM655.85 302.66h2.2v2.2h-2.2zM668.70 302.66h2.2v2.2h-2.2zM681.55 302.66h2.2v2.2h-2.2zM694.40 302.66h2.2v2.2h-2.2zM707.25 302.66h2.2v2.2h-2.2zM720.10 302.66h2.2v2.2h-2.2zM732.95 302.66h2.2v2.2h-2.2zM745.80 302.66h2.2v2.2h-2.2zM758.65 302.66h2.2v2.2h-2.2zM771.50 302.66h2.2v2.2h-2.2zM784.35 302.66h2.2v2.2h-2.2zM797.20 302.66h2.2v2.2h-2.2zM810.05 302.66h2.2v2.2h-2.2zM822.90 302.66h2.2v2.2h-2.2zM835.75 302.66h2.2v2.2h-2.2zM848.60 302.66h2.2v2.2h-2.2zM861.45 302.66h2.2v2.2h-2.2zM874.30 302.66h2.2v2.2h-2.2zM887.15 302.66h2.2v2.2h-2.2zM900.00 302.66h2.2v2.2h-2.2zM912.85 302.66h2.2v2.2h-2.2zM925.70 302.66h2.2v2.2h-2.2zM938.55 302.66h2.2v2.2h-2.2zM951.40 302.66h2.2v2.2h-2.2zM964.25 302.66h2.2v2.2h-2.2zM977.10 302.66h2.2v2.2h-2.2zM989.95 302.66h2.2v2.2h-2.2zM1002.80 302.66h2.2v2.2h-2.2zM1015.65 302.66h2.2v2.2h-2.2zM1028.50 302.66h2.2v2.2h-2.2zM1041.35 302.66h2.2v2.2h-2.2zM1054.20 302.66h2.2v2.2h-2.2zM1067.05 302.66h2.2v2.2h-2.2zM1079.90 302.66h2.2v2.2h-2.2zM1092.75 302.66h2.2v2.2h-2.2zM1105.60 302.66h2.2v2.2h-2.2zM1118.45 302.66h2.2v2.2h-2.2zM1131.30 302.66h2.2v2.2h-2.2zM1144.15 302.66h2.2v2.2h-2.2zM1157.00 302.66h2.2v2.2h-2.2zM1169.85 302.66h2.2v2.2h-2.2zM1182.70 302.66h2.2v2.2h-2.2zM1195.55 302.66h2.2v2.2h-2.2zM578.75 343.22h2.2v2.2h-2.2zM591.60 343.22h2.2v2.2h-2.2zM604.45 343.22h2.2v2.2h-2.2zM617.30 343.22h2.2v2.2h-2.2zM630.15 343.22h2.2v2.2h-2.2zM643.00 343.22h2.2v2.2h-2.2zM655.85 343.22h2.2v2.2h-2.2zM668.70 343.22h2.2v2.2h-2.2zM681.55 343.22h2.2v2.2h-2.2zM694.40 343.22h2.2v2.2h-2.2zM707.25 343.22h2.2v2.2h-2.2zM720.10 343.22h2.2v2.2h-2.2zM732.95 343.22h2.2v2.2h-2.2zM745.80 343.22h2.2v2.2h-2.2zM758.65 343.22h2.2v2.2h-2.2zM771.50 343.22h2.2v2.2h-2.2zM784.35 343.22h2.2v2.2h-2.2zM797.20 343.22h2.2v2.2h-2.2zM810.05 343.22h2.2v2.2h-2.2zM822.90 343.22h2.2v2.2h-2.2zM835.75 343.22h2.2v2.2h-2.2zM848.60 343.22h2.2v2.2h-2.2zM861.45 343.22h2.2v2.2h-2.2zM874.30 343.22h2.2v2.2h-2.2zM887.15 343.22h2.2v2.2h-2.2zM900.00 343.22h2.2v2.2h-2.2zM912.85 343.22h2.2v2.2h-2.2zM925.70 343.22h2.2v2.2h-2.2zM938.55 343.22h2.2v2.2h-2.2zM951.40 343.22h2.2v2.2h-2.2zM964.25 343.22h2.2v2.2h-2.2zM977.10 343.22h2.2v2.2h-2.2zM989.95 343.22h2.2v2.2h-2.2zM1002.80 343.22h2.2v2.2h-2.2zM1015.65 343.22h2.2v2.2h-2.2zM1028.50 343.22h2.2v2.2h-2.2zM1041.35 343.22h2.2v2.2h-2.2zM1054.20 343.22h2.2v2.2h-2.2zM1067.05 343.22h2.2v2.2h-2.2zM1079.90 343.22h2.2v2.2h-2.2zM1092.75 343.22h2.2v2.2h-2.2zM1105.60 343.22h2.2v2.2h-2.2zM1118.45 343.22h2.2v2.2h-2.2zM1131.30 343.22h2.2v2.2h-2.2zM1144.15 343.22h2.2v2.2h-2.2zM1157.00 343.22h2.2v2.2h-2.2zM1169.85 343.22h2.2v2.2h-2.2zM1182.70 343.22h2.2v2.2h-2.2zM1195.55 343.22h2.2v2.2h-2.2zM578.75 383.78h2.2v2.2h-2.2zM591.60 383.78h2.2v2.2h-2.2zM604.45 383.78h2.2v2.2h-2.2zM617.30 383.78h2.2v2.2h-2.2zM630.15 383.78h2.2v2.2h-2.2zM643.00 383.78h2.2v2.2h-2.2zM655.85 383.78h2.2v2.2h-2.2zM668.70 383.78h2.2v2.2h-2.2zM681.55 383.78h2.2v2.2h-2.2zM694.40 383.78h2.2v2.2h-2.2zM707.25 383.78h2.2v2.2h-2.2zM720.10 383.78h2.2v2.2h-2.2zM732.95 383.78h2.2v2.2h-2.2zM745.80 383.78h2.2v2.2h-2.2zM758.65 383.78h2.2v2.2h-2.2zM771.50 383.78h2.2v2.2h-2.2zM784.35 383.78h2.2v2.2h-2.2zM797.20 383.78h2.2v2.2h-2.2zM810.05 383.78h2.2v2.2h-2.2zM822.90 383.78h2.2v2.2h-2.2zM835.75 383.78h2.2v2.2h-2.2zM848.60 383.78h2.2v2.2h-2.2zM861.45 383.78h2.2v2.2h-2.2zM874.30 383.78h2.2v2.2h-2.2zM887.15 383.78h2.2v2.2h-2.2zM900.00 383.78h2.2v2.2h-2.2zM912.85 383.78h2.2v2.2h-2.2zM925.70 383.78h2.2v2.2h-2.2zM938.55 383.78h2.2v2.2h-2.2zM951.40 383.78h2.2v2.2h-2.2zM964.25 383.78h2.2v2.2h-2.2zM977.10 383.78h2.2v2.2h-2.2zM989.95 383.78h2.2v2.2h-2.2zM1002.80 383.78h2.2v2.2h-2.2zM1015.65 383.78h2.2v2.2h-2.2zM1028.50 383.78h2.2v2.2h-2.2zM1041.35 383.78h2.2v2.2h-2.2zM1054.20 383.78h2.2v2.2h-2.2zM1067.05 383.78h2.2v2.2h-2.2zM1079.90 383.78h2.2v2.2h-2.2zM1092.75 383.78h2.2v2.2h-2.2zM1105.60 383.78h2.2v2.2h-2.2zM1118.45 383.78h2.2v2.2h-2.2zM1131.30 383.78h2.2v2.2h-2.2zM1144.15 383.78h2.2v2.2h-2.2zM1157.00 383.78h2.2v2.2h-2.2zM1169.85 383.78h2.2v2.2h-2.2zM1182.70 383.78h2.2v2.2h-2.2zM1195.55 383.78h2.2v2.2h-2.2zM578.75 424.34h2.2v2.2h-2.2zM591.60 424.34h2.2v2.2h-2.2zM604.45 424.34h2.2v2.2h-2.2zM617.30 424.34h2.2v2.2h-2.2zM630.15 424.34h2.2v2.2h-2.2zM643.00 424.34h2.2v2.2h-2.2zM655.85 424.34h2.2v2.2h-2.2zM668.70 424.34h2.2v2.2h-2.2zM681.55 424.34h2.2v2.2h-2.2zM694.40 424.34h2.2v2.2h-2.2zM707.25 424.34h2.2v2.2h-2.2zM720.10 424.34h2.2v2.2h-2.2zM732.95 424.34h2.2v2.2h-2.2zM745.80 424.34h2.2v2.2h-2.2zM758.65 424.34h2.2v2.2h-2.2zM771.50 424.34h2.2v2.2h-2.2zM784.35 424.34h2.2v2.2h-2.2zM797.20 424.34h2.2v2.2h-2.2zM810.05 424.34h2.2v2.2h-2.2zM822.90 424.34h2.2v2.2h-2.2zM835.75 424.34h2.2v2.2h-2.2zM848.60 424.34h2.2v2.2h-2.2zM861.45 424.34h2.2v2.2h-2.2zM874.30 424.34h2.2v2.2h-2.2zM887.15 424.34h2.2v2.2h-2.2zM900.00 424.34h2.2v2.2h-2.2zM912.85 424.34h2.2v2.2h-2.2zM925.70 424.34h2.2v2.2h-2.2zM938.55 424.34h2.2v2.2h-2.2zM951.40 424.34h2.2v2.2h-2.2zM964.25 424.34h2.2v2.2h-2.2zM977.10 424.34h2.2v2.2h-2.2zM989.95 424.34h2.2v2.2h-2.2zM1002.80 424.34h2.2v2.2h-2.2zM1015.65 424.34h2.2v2.2h-2.2zM1028.50 424.34h2.2v2.2h-2.2zM1041.35 424.34h2.2v2.2h-2.2zM1054.20 424.34h2.2v2.2h-2.2zM1067.05 424.34h2.2v2.2h-2.2zM1079.90 424.34h2.2v2.2h-2.2zM1092.75 424.34h2.2v2.2h-2.2zM1105.60 424.34h2.2v2.2h-2.2zM1118.45 424.34h2.2v2.2h-2.2zM1131.30 424.34h2.2v2.2h-2.2zM1144.15 424.34h2.2v2.2h-2.2zM1157.00 424.34h2.2v2.2h-2.2zM1169.85 424.34h2.2v2.2h-2.2zM1182.70 424.34h2.2v2.2h-2.2zM1195.55 424.34h2.2v2.2h-2.2z" fill="#c2c2c2"/>
<line x1="567" y1="262.7" x2="1209.5" y2="262.7" stroke="#cacaca" stroke-width="2.4" />
<line x1="888.25" y1="60.4" x2="888.25" y2="466" stroke="#7a7a7a" stroke-width="1.5" />
<path d="M579.85 260.7v4.2 M592.70 260.7v4.2 M605.55 260.7v4.2 M618.40 260.7v4.2 M631.25 260.7v4.2 M644.10 260.7v4.2 M656.95 260.7v4.2 M669.80 260.7v4.2 M682.65 260.7v4.2 M695.50 260.7v4.2 M708.35 260.7v4.2 M721.20 260.7v4.2 M734.05 260.7v4.2 M746.90 260.7v4.2 M759.75 260.7v4.2 M772.60 260.7v4.2 M785.45 260.7v4.2 M798.30 260.7v4.2 M811.15 260.7v4.2 M824.00 260.7v4.2 M836.85 260.7v4.2 M849.70 260.7v4.2 M862.55 260.7v4.2 M875.40 260.7v4.2 M888.25 260.7v4.2 M901.10 260.7v4.2 M913.95 260.7v4.2 M926.80 260.7v4.2 M939.65 260.7v4.2 M952.50 260.7v4.2 M965.35 260.7v4.2 M978.20 260.7v4.2 M991.05 260.7v4.2 M1003.90 260.7v4.2 M1016.75 260.7v4.2 M1029.60 260.7v4.2 M1042.45 260.7v4.2 M1055.30 260.7v4.2 M1068.15 260.7v4.2 M1081.00 260.7v4.2 M1093.85 260.7v4.2 M1106.70 260.7v4.2 M1119.55 260.7v4.2 M1132.40 260.7v4.2 M1145.25 260.7v4.2 M1158.10 260.7v4.2 M1170.95 260.7v4.2 M1183.80 260.7v4.2 M1196.65 260.7v4.2" stroke="#8c8c8c" stroke-width="1.7"/>
<path d="M886.45 68.51h3.6 M886.45 76.62h3.6 M886.45 84.74h3.6 M886.45 92.85h3.6 M886.45 100.96h3.6 M886.45 109.07h3.6 M886.45 117.18h3.6 M886.45 125.30h3.6 M886.45 133.41h3.6 M886.45 141.52h3.6 M886.45 149.63h3.6 M886.45 157.74h3.6 M886.45 165.86h3.6 M886.45 173.97h3.6 M886.45 182.08h3.6 M886.45 190.19h3.6 M886.45 198.30h3.6 M886.45 206.42h3.6 M886.45 214.53h3.6 M886.45 222.64h3.6 M886.45 230.75h3.6 M886.45 238.86h3.6 M886.45 246.98h3.6 M886.45 255.09h3.6 M886.45 263.20h3.6 M886.45 271.31h3.6 M886.45 279.42h3.6 M886.45 287.54h3.6 M886.45 295.65h3.6 M886.45 303.76h3.6 M886.45 311.87h3.6 M886.45 319.98h3.6 M886.45 328.10h3.6 M886.45 336.21h3.6 M886.45 344.32h3.6 M886.45 352.43h3.6 M886.45 360.54h3.6 M886.45 368.66h3.6 M886.45 376.77h3.6 M886.45 384.88h3.6 M886.45 392.99h3.6 M886.45 401.10h3.6 M886.45 409.22h3.6 M886.45 417.33h3.6 M886.45 425.44h3.6 M886.45 433.55h3.6 M886.45 441.66h3.6 M886.45 449.78h3.6 M886.45 457.89h3.6" stroke="#4a4a4a" stroke-width="1.8"/>
<path d="M579.85 60.4v3 M579.85 466v-3 M592.70 60.4v3 M592.70 466v-3 M605.55 60.4v3 M605.55 466v-3 M618.40 60.4v3 M618.40 466v-3 M631.25 60.4v3 M631.25 466v-3 M644.10 60.4v3 M644.10 466v-3 M656.95 60.4v3 M656.95 466v-3 M669.80 60.4v3 M669.80 466v-3 M682.65 60.4v3 M682.65 466v-3 M695.50 60.4v3 M695.50 466v-3 M708.35 60.4v3 M708.35 466v-3 M721.20 60.4v3 M721.20 466v-3 M734.05 60.4v3 M734.05 466v-3 M746.90 60.4v3 M746.90 466v-3 M759.75 60.4v3 M759.75 466v-3 M772.60 60.4v3 M772.60 466v-3 M785.45 60.4v3 M785.45 466v-3 M798.30 60.4v3 M798.30 466v-3 M811.15 60.4v3 M811.15 466v-3 M824.00 60.4v3 M824.00 466v-3 M836.85 60.4v3 M836.85 466v-3 M849.70 60.4v3 M849.70 466v-3 M862.55 60.4v3 M862.55 466v-3 M875.40 60.4v3 M875.40 466v-3 M888.25 60.4v3 M888.25 466v-3 M901.10 60.4v3 M901.10 466v-3 M913.95 60.4v3 M913.95 466v-3 M926.80 60.4v3 M926.80 466v-3 M939.65 60.4v3 M939.65 466v-3 M952.50 60.4v3 M952.50 466v-3 M965.35 60.4v3 M965.35 466v-3 M978.20 60.4v3 M978.20 466v-3 M991.05 60.4v3 M991.05 466v-3 M1003.90 60.4v3 M1003.90 466v-3 M1016.75 60.4v3 M1016.75 466v-3 M1029.60 60.4v3 M1029.60 466v-3 M1042.45 60.4v3 M1042.45 466v-3 M1055.30 60.4v3 M1055.30 466v-3 M1068.15 60.4v3 M1068.15 466v-3 M1081.00 60.4v3 M1081.00 466v-3 M1093.85 60.4v3 M1093.85 466v-3 M1106.70 60.4v3 M1106.70 466v-3 M1119.55 60.4v3 M1119.55 466v-3 M1132.40 60.4v3 M1132.40 466v-3 M1145.25 60.4v3 M1145.25 466v-3 M1158.10 60.4v3 M1158.10 466v-3 M1170.95 60.4v3 M1170.95 466v-3 M1183.80 60.4v3 M1183.80 466v-3 M1196.65 60.4v3 M1196.65 466v-3 M567 68.51h3 M1209.5 68.51h-3 M567 76.62h3 M1209.5 76.62h-3 M567 84.74h3 M1209.5 84.74h-3 M567 92.85h3 M1209.5 92.85h-3 M567 100.96h3 M1209.5 100.96h-3 M567 109.07h3 M1209.5 109.07h-3 M567 117.18h3 M1209.5 117.18h-3 M567 125.30h3 M1209.5 125.30h-3 M567 133.41h3 M1209.5 133.41h-3 M567 141.52h3 M1209.5 141.52h-3 M567 149.63h3 M1209.5 149.63h-3 M567 157.74h3 M1209.5 157.74h-3 M567 165.86h3 M1209.5 165.86h-3 M567 173.97h3 M1209.5 173.97h-3 M567 182.08h3 M1209.5 182.08h-3 M567 190.19h3 M1209.5 190.19h-3 M567 198.30h3 M1209.5 198.30h-3 M567 206.42h3 M1209.5 206.42h-3 M567 214.53h3 M1209.5 214.53h-3 M567 222.64h3 M1209.5 222.64h-3 M567 230.75h3 M1209.5 230.75h-3 M567 238.86h3 M1209.5 238.86h-3 M567 246.98h3 M1209.5 246.98h-3 M567 255.09h3 M1209.5 255.09h-3 M567 263.20h3 M1209.5 263.20h-3 M567 271.31h3 M1209.5 271.31h-3 M567 279.42h3 M1209.5 279.42h-3 M567 287.54h3 M1209.5 287.54h-3 M567 295.65h3 M1209.5 295.65h-3 M567 303.76h3 M1209.5 303.76h-3 M567 311.87h3 M1209.5 311.87h-3 M567 319.98h3 M1209.5 319.98h-3 M567 328.10h3 M1209.5 328.10h-3 M567 336.21h3 M1209.5 336.21h-3 M567 344.32h3 M1209.5 344.32h-3 M567 352.43h3 M1209.5 352.43h-3 M567 360.54h3 M1209.5 360.54h-3 M567 368.66h3 M1209.5 368.66h-3 M567 376.77h3 M1209.5 376.77h-3 M567 384.88h3 M1209.5 384.88h-3 M567 392.99h3 M1209.5 392.99h-3 M567 401.10h3 M1209.5 401.10h-3 M567 409.22h3 M1209.5 409.22h-3 M567 417.33h3 M1209.5 417.33h-3 M567 425.44h3 M1209.5 425.44h-3 M567 433.55h3 M1209.5 433.55h-3 M567 441.66h3 M1209.5 441.66h-3 M567 449.78h3 M1209.5 449.78h-3 M567 457.89h3 M1209.5 457.89h-3" stroke="#555" stroke-width="1.2"/>
<line x1="661.5" y1="60.4" x2="661.5" y2="531" stroke="#5e5e5e" stroke-width="1.7" stroke-dasharray="3.2 4"/>
<line x1="800" y1="60.4" x2="800" y2="531" stroke="#5e5e5e" stroke-width="1.7" stroke-dasharray="3.2 4"/>
<line x1="903.5" y1="60.4" x2="903.5" y2="531" stroke="#5e5e5e" stroke-width="1.7" stroke-dasharray="3.2 4"/>
<line x1="1032.5" y1="60.4" x2="1032.5" y2="531" stroke="#888" stroke-width="1.7" stroke-dasharray="3.2 4"/>
<line x1="1059" y1="60.4" x2="1059" y2="531" stroke="#5e5e5e" stroke-width="1.7" stroke-dasharray="3.2 4"/>
<rect x="567.5" y="502" width="641.5" height="28.5" fill="#f0f0f0"/>
<path d="M567.5 502 H1209 M567.5 530.5 H1209" stroke="#a3a3a3" stroke-width="1.9"/>
<line x1="567.3" y1="466" x2="567.3" y2="531" stroke="#888" stroke-width="1.5" stroke-dasharray="3.2 4"/>
<line x1="1209.3" y1="466" x2="1209.3" y2="531" stroke="#888" stroke-width="1.5" stroke-dasharray="3.2 4"/>
<line x1="661.5" y1="502" x2="661.5" y2="531" stroke="#5e5e5e" stroke-width="1.7" stroke-dasharray="3.2 4"/>
<line x1="800" y1="502" x2="800" y2="531" stroke="#5e5e5e" stroke-width="1.7" stroke-dasharray="3.2 4"/>
<line x1="903.5" y1="502" x2="903.5" y2="531" stroke="#5e5e5e" stroke-width="1.7" stroke-dasharray="3.2 4"/>
<line x1="1032.5" y1="502" x2="1032.5" y2="531" stroke="#5e5e5e" stroke-width="1.7" stroke-dasharray="3.2 4"/>
<line x1="1059" y1="502" x2="1059" y2="531" stroke="#5e5e5e" stroke-width="1.7" stroke-dasharray="3.2 4"/>
<rect x="579" y="473" width="108" height="21" fill="#fff"/>
<text x="583.0" y="490.1" font-size="17.8" fill="#232323" font-weight="normal" text-anchor="start" stroke="#232323" stroke-width="0.15" textLength="100.18" lengthAdjust="spacingAndGlyphs" >VOUT Usage</text>
<text x="588.54" y="522.3" font-size="17.8" fill="#232323" font-weight="normal" text-anchor="start" stroke="#232323" stroke-width="0.15" textLength="52.4" lengthAdjust="spacingAndGlyphs" >Battery</text>
<text x="711.6" y="522.2" font-size="17.8" fill="#232323" font-weight="normal" text-anchor="start" stroke="#232323" stroke-width="0.15" textLength="40.24" lengthAdjust="spacingAndGlyphs" >Solar</text>
<text x="832.6" y="522.2" font-size="17.8" fill="#232323" font-weight="normal" text-anchor="start" stroke="#232323" stroke-width="0.15" textLength="39.18" lengthAdjust="spacingAndGlyphs" >Solar</text>
<text x="943.1" y="522.2" font-size="17.8" fill="#232323" font-weight="normal" text-anchor="start" stroke="#232323" stroke-width="0.15" textLength="52.62" lengthAdjust="spacingAndGlyphs" >Battery</text>
<text x="1116.54" y="522.2" font-size="17.8" fill="#232323" font-weight="normal" text-anchor="start" stroke="#232323" stroke-width="0.15" textLength="39.02" lengthAdjust="spacingAndGlyphs" >Solar</text>
<rect x="1024" y="534" width="203" height="32" fill="#f8f8f8"/>
<text x="994.1" y="550.2" font-size="17.8" fill="#232323" font-weight="normal" text-anchor="start" stroke="#232323" stroke-width="0.15" textLength="51.68" lengthAdjust="spacingAndGlyphs" >Battery</text>
<text x="1043.5" y="556.2" font-size="19" fill="#b6ddab" font-weight="normal" text-anchor="start" textLength="164" lengthAdjust="spacingAndGlyphs" >www.cntronics.com</text>
<rect x="567" y="60.4" width="642.5" height="405.6" fill="none" stroke="#000" stroke-width="2.6"/>
<path d="M628.25 60.4 L634.25 60.4 L631.25 65.4 Z" fill="#000"/>
<text x="581.26" y="118.1" font-size="17.8" fill="#232323" font-weight="normal" text-anchor="start" stroke="#232323" stroke-width="0.15" textLength="53.24" lengthAdjust="spacingAndGlyphs" >Battery</text>
<text x="581.04" y="247.3" font-size="17.8" fill="#232323" font-weight="normal" text-anchor="start" stroke="#232323" stroke-width="0.15" textLength="39.52" lengthAdjust="spacingAndGlyphs" >Solar</text>
<text x="582.66" y="291.2" font-size="17.8" fill="#232323" font-weight="normal" text-anchor="start" stroke="#232323" stroke-width="0.15" textLength="40.68" lengthAdjust="spacingAndGlyphs" >VST1</text>
<text x="583.94" y="359.1" font-size="17.8" fill="#232323" font-weight="normal" text-anchor="start" stroke="#232323" stroke-width="0.15" textLength="45.4" lengthAdjust="spacingAndGlyphs" >VOUT</text>
<text x="1091.28" y="147.3" font-size="17.8" fill="#232323" font-weight="normal" text-anchor="start" stroke="#232323" stroke-width="0.15" textLength="44.34" lengthAdjust="spacingAndGlyphs" >VBAT</text>
<text x="1139.88" y="147.3" font-size="17.8" fill="#232323" font-weight="normal" text-anchor="start" stroke="#232323" stroke-width="0.15" textLength="63.36" lengthAdjust="spacingAndGlyphs" >(2 V/div)</text>
<text x="1100.5" y="247.3" font-size="17.8" fill="#232323" font-weight="normal" text-anchor="start" stroke="#232323" stroke-width="0.15" textLength="34.12" lengthAdjust="spacingAndGlyphs" >VDD</text>
<text x="1140.66" y="247.3" font-size="17.8" fill="#232323" font-weight="normal" text-anchor="start" stroke="#232323" stroke-width="0.15" textLength="63.02" lengthAdjust="spacingAndGlyphs" >(2 V/div)</text>
<text x="1055.72" y="304.4" font-size="17.8" fill="#232323" font-weight="normal" text-anchor="start" stroke="#232323" stroke-width="0.15" textLength="75.9" lengthAdjust="spacingAndGlyphs" >VSTORE1</text>
<text x="1139.6" y="304.4" font-size="17.8" fill="#232323" font-weight="normal" text-anchor="start" stroke="#232323" stroke-width="0.15" textLength="63.58" lengthAdjust="spacingAndGlyphs" >(2 V/div)</text>
<text x="1088.0" y="384.2" font-size="17.8" fill="#232323" font-weight="normal" text-anchor="start" stroke="#232323" stroke-width="0.15" textLength="44.22" lengthAdjust="spacingAndGlyphs" >VOUT</text>
<text x="1139.82" y="384.2" font-size="17.8" fill="#232323" font-weight="normal" text-anchor="start" stroke="#232323" stroke-width="0.15" textLength="62.58" lengthAdjust="spacingAndGlyphs" >(2 V/div)</text>
<text x="1087.54" y="93" font-size="16.5" fill="#232323" font-weight="normal" text-anchor="start" stroke="#232323" stroke-width="0.15" textLength="49.8" lengthAdjust="spacingAndGlyphs" >10 sec</text>
<line x1="1090" y1="101.3" x2="1137" y2="101.3" stroke="#111" stroke-width="2" />
<path d="M1082.7 101.3 L1092 96.8 L1092 105.8 Z M1144.7 101.3 L1135.4 96.8 L1135.4 105.8 Z" fill="#000"/>
<ellipse cx="564.6" cy="183" rx="6.7" ry="7.1" fill="#000"/>
<path d="M569 181.4 L573.5 180.4 L579.6 183 L573.5 185.6 L569 184.6 Z" fill="#000"/>
<ellipse cx="564.6" cy="263.5" rx="6.7" ry="7.1" fill="#000"/>
<path d="M569 261.9 L573.5 260.9 L579.6 263.5 L573.5 266.1 L569 265.1 Z" fill="#000"/>
<ellipse cx="564.6" cy="344" rx="6.7" ry="7.1" fill="#000"/>
<path d="M569 342.4 L573.5 341.4 L579.6 344 L573.5 346.6 L569 345.6 Z" fill="#000"/>
<ellipse cx="564.6" cy="424.6" rx="6.7" ry="7.1" fill="#000"/>
<path d="M569 423.0 L573.5 422.0 L579.6 424.6 L573.5 427.20000000000005 L569 426.20000000000005 Z" fill="#000"/>
<path d="M567.0 125.3 L568.5 125.6 L570.0 125.4 L571.5 125.7 L573.0 125.7 L574.5 125.1 L576.0 125.0 L577.5 126.0 L579.0 125.3 L580.5 125.3 L582.0 126.2 L583.5 125.5 L585.0 126.0 L586.5 125.5 L588.0 125.7 L589.5 125.1 L591.0 125.7 L592.5 126.0 L594.0 125.6 L595.5 125.8 L597.0 125.7 L598.5 125.0 L600.0 125.8 L601.5 125.6 L603.0 125.3 L604.5 125.0 L606.0 126.0 L607.5 125.5 L609.0 125.8 L610.5 126.0 L612.0 125.8 L613.5 126.0 L615.0 125.4 L616.5 125.9 L618.0 125.4 L619.5 126.0 L621.0 125.9 L622.5 125.0 L624.0 125.0 L625.5 125.1 L627.0 126.0 L628.5 125.4 L630.0 125.6 L631.5 125.2 L633.0 125.5 L634.5 125.3 L636.0 125.3 L637.5 125.6 L639.0 125.5 L640.5 125.9 L642.0 125.7 L643.5 126.0 L645.0 125.9 L646.5 126.0 L648.0 125.6 L649.5 125.0 L651.0 125.9 L652.5 126.0 L654.0 125.9 L655.5 125.5 L657.0 125.7 L658.5 125.1 L660.0 125.8 L661.5 125.4" fill="none" stroke="#000" stroke-linejoin="round" stroke-width="3.6"/>
<path d="M661.5 123.9 L663.0 123.5 L664.5 123.3 L666.0 124.2 L667.5 124.4 L669.0 123.3 L670.5 124.2 L672.0 123.7 L673.5 123.4 L675.0 123.6 L676.5 124.1 L678.0 124.3 L679.5 123.3 L681.0 124.0 L682.5 123.3 L684.0 124.1 L685.5 123.6 L687.1 124.3 L688.6 124.4 L690.1 123.8 L691.6 124.4 L693.1 123.6 L694.6 123.3 L696.1 123.9 L697.6 123.3 L699.1 123.5 L700.6 123.7 L702.1 124.0 L703.6 123.4 L705.1 123.3 L706.6 124.3 L708.1 123.6 L709.6 124.4 L711.1 124.3 L712.6 123.7 L714.1 123.8 L715.6 123.9 L717.1 124.0 L718.6 124.0 L720.1 123.9 L721.6 124.0 L723.1 124.4 L724.6 123.9 L726.1 123.8 L727.6 124.1 L729.1 123.5 L730.6 123.6 L732.1 124.4 L733.6 123.9 L735.2 123.9 L736.7 123.3 L738.2 123.8 L739.7 124.0 L741.2 123.3 L742.7 124.0 L744.2 124.0 L745.7 123.3 L747.2 124.0 L748.7 123.8 L750.2 124.1 L751.7 123.7 L753.2 124.1 L754.7 124.2 L756.2 123.3 L757.7 123.4 L759.2 124.1 L760.7 124.4 L762.2 123.6 L763.7 123.8 L765.2 124.0 L766.7 123.7 L768.2 123.7 L769.7 123.7 L771.2 123.7 L772.7 124.0 L774.2 123.7 L775.7 123.7 L777.2 124.2 L778.7 123.3 L780.2 124.0 L781.7 124.2 L783.3 123.7 L784.8 123.6 L786.3 124.3 L787.8 123.6 L789.3 123.5 L790.8 123.8 L792.3 124.1 L793.8 123.4 L795.3 123.7 L796.8 123.7 L798.3 124.3 L799.8 123.8 L801.3 124.3 L802.8 123.5 L804.3 123.7 L805.8 124.1 L807.3 124.4 L808.8 123.9 L810.3 123.6 L811.8 123.5 L813.3 124.0 L814.8 123.6 L816.3 124.3 L817.8 124.3 L819.3 123.6 L820.8 123.7 L822.3 124.3 L823.8 124.1 L825.3 124.3 L826.8 123.8 L828.3 123.5 L829.8 123.7 L831.4 124.3 L832.9 123.7 L834.4 123.8 L835.9 123.8 L837.4 123.8 L838.9 123.8 L840.4 124.5 L841.9 123.5 L843.4 123.4 L844.9 124.5 L846.4 124.4 L847.9 124.5 L849.4 123.9 L850.9 124.5 L852.4 124.5 L853.9 123.6 L855.4 124.3 L856.9 124.4 L858.4 124.2 L859.9 124.0 L861.4 123.7 L862.9 123.8 L864.4 123.6 L865.9 123.5 L867.4 124.1 L868.9 123.7 L870.4 124.3 L871.9 123.4 L873.4 124.5 L874.9 124.2 L876.4 124.5 L877.9 124.5 L879.5 124.5 L881.0 124.1 L882.5 123.4 L884.0 124.3 L885.5 123.6 L887.0 123.7 L888.5 124.2 L890.0 124.0 L891.5 123.9 L893.0 124.5 L894.5 124.1 L896.0 123.8 L897.5 123.7 L899.0 124.4 L900.5 124.0 L902.0 124.3 L903.5 124.0" fill="none" stroke="#000" stroke-linejoin="round" stroke-width="3.8"/>
<path d="M903.5 125.2 L905.0 125.0 L906.5 125.4 L908.0 125.8 L909.5 125.0 L911.0 125.8 L912.6 125.9 L914.1 125.8 L915.6 125.8 L917.1 124.8 L918.6 125.6 L920.1 125.8 L921.6 124.9 L923.1 125.1 L924.6 125.1 L926.1 125.4 L927.7 125.3 L929.2 125.4 L930.7 125.7 L932.2 124.8 L933.7 124.9 L935.2 125.0 L936.7 124.9 L938.2 124.9 L939.7 126.0 L941.2 125.8 L942.8 124.9 L944.3 125.4 L945.8 125.2 L947.3 125.2 L948.8 125.2 L950.3 125.6 L951.8 125.5 L953.3 125.2 L954.8 125.0 L956.3 125.2 L957.8 124.9 L959.4 125.5 L960.9 125.7 L962.4 125.3 L963.9 124.9 L965.4 125.0 L966.9 125.2 L968.4 125.5 L969.9 125.7 L971.4 125.3 L972.9 125.8 L974.5 125.5 L976.0 125.3 L977.5 125.2 L979.0 125.4 L980.5 125.6 L982.0 125.3 L983.5 125.6 L985.0 125.4 L986.5 125.1 L988.0 125.4 L989.6 125.6 L991.1 124.9 L992.6 125.3 L994.1 125.3 L995.6 125.9 L997.1 125.9 L998.6 125.2 L1000.1 125.9 L1001.6 125.7 L1003.1 125.1 L1004.7 125.4 L1006.2 124.9 L1007.7 125.8 L1009.2 125.6 L1010.7 125.9 L1012.2 125.8 L1013.7 125.6 L1015.2 125.7 L1016.7 125.5 L1018.2 124.9 L1019.7 125.5 L1021.3 124.8 L1022.8 125.0 L1024.3 125.7 L1025.8 124.9 L1027.3 124.9 L1028.8 124.9 L1030.3 125.9 L1031.8 125.0 L1033.3 124.8 L1034.8 125.8 L1036.4 124.9 L1037.9 125.8 L1039.4 125.6 L1040.9 125.8 L1042.4 125.9 L1043.9 125.5 L1045.4 125.8 L1046.9 124.8 L1048.4 125.7 L1049.9 125.4 L1051.5 125.7 L1053.0 124.9 L1054.5 125.7 L1056.0 125.9 L1057.5 124.9 L1059.0 125.4" fill="none" stroke="#000" stroke-linejoin="round" stroke-width="3.6"/>
<path d="M1059.0 123.4 L1060.5 123.7 L1062.0 124.0 L1063.5 123.3 L1065.0 123.2 L1066.5 123.3 L1068.0 123.7 L1069.5 123.9 L1071.0 123.5 L1072.5 123.4 L1074.0 123.5 L1075.6 123.4 L1077.1 123.5 L1078.6 123.1 L1080.1 123.6 L1081.6 124.2 L1083.1 123.5 L1084.6 123.9 L1086.1 123.2 L1087.6 123.8 L1089.1 123.9 L1090.6 123.8 L1092.1 123.6 L1093.6 123.6 L1095.1 123.8 L1096.6 124.1 L1098.1 123.2 L1099.6 123.1 L1101.1 123.9 L1102.6 124.1 L1104.2 123.6 L1105.7 123.5 L1107.2 123.9 L1108.7 123.2 L1110.2 123.3 L1111.7 123.2 L1113.2 123.7 L1114.7 123.4 L1116.2 123.3 L1117.7 123.8 L1119.2 124.1 L1120.7 123.4 L1122.2 123.8 L1123.7 123.5 L1125.2 124.0 L1126.7 123.7 L1128.2 123.3 L1129.7 123.3 L1131.2 123.0 L1132.7 123.6 L1134.2 123.5 L1135.8 123.2 L1137.3 123.4 L1138.8 123.4 L1140.3 123.9 L1141.8 123.2 L1143.3 124.2 L1144.8 123.6 L1146.3 123.7 L1147.8 123.6 L1149.3 124.0 L1150.8 124.0 L1152.3 123.7 L1153.8 123.6 L1155.3 123.9 L1156.8 124.0 L1158.3 123.5 L1159.8 123.9 L1161.3 124.2 L1162.8 123.6 L1164.3 123.3 L1165.9 123.3 L1167.4 123.9 L1168.9 123.8 L1170.4 124.2 L1171.9 124.0 L1173.4 123.3 L1174.9 123.2 L1176.4 123.3 L1177.9 123.2 L1179.4 123.8 L1180.9 124.0 L1182.4 124.1 L1183.9 123.3 L1185.4 124.0 L1186.9 123.4 L1188.4 123.5 L1189.9 123.9 L1191.4 123.1 L1192.9 123.1 L1194.5 124.0 L1196.0 123.4 L1197.5 123.4 L1199.0 123.7 L1200.5 123.8 L1202.0 123.0 L1203.5 123.4 L1205.0 123.5 L1206.5 123.6 L1208.0 123.3 L1209.5 123.6" fill="none" stroke="#000" stroke-linejoin="round" stroke-width="3.8"/>
<path d="M567.0 256.3 L568.5 256.7 L570.0 256.1 L571.6 256.3 L573.1 255.7 L574.6 255.9 L576.1 256.4 L577.7 255.7 L579.2 256.7 L580.7 256.7 L582.2 255.7 L583.8 256.7 L585.3 256.0 L586.8 256.5 L588.3 256.5 L589.8 256.0 L591.4 256.4 L592.9 256.4 L594.4 256.6 L595.9 255.9 L597.5 256.5 L599.0 256.8 L600.5 256.4 L602.0 256.2 L603.6 255.7 L605.1 256.2 L606.6 256.0 L608.1 256.5 L609.7 256.4 L611.2 256.3 L612.7 255.8 L614.2 256.4 L615.7 256.4 L617.3 255.8 L618.8 256.7 L620.3 256.4 L621.8 255.7 L623.4 256.7 L624.9 255.8 L626.4 256.0 L627.9 256.5 L629.5 256.3 L631.0 256.3 L632.5 256.2" fill="none" stroke="#000" stroke-linejoin="round" stroke-width="3.9"/>
<path d="M633.7 256 V217" stroke="#666" stroke-width="1.5"/>
<path d="M633.5 218 L660.5 189.5" fill="none" stroke="#000" stroke-linejoin="round" stroke-width="3.4"/>
<path d="M660.6 189.5 V215 M667.1 189.5 V215 M673.5 189.5 V215 M680.0 189.5 V215 M686.5 189.5 V215 M693.0 189.5 V215 M699.4 189.5 V215 M705.9 189.5 V215 M712.4 189.5 V215 M718.8 189.5 V215 M725.3 189.5 V215 M731.8 189.5 V215 M738.2 189.5 V215 M744.7 189.5 V215 M751.2 189.5 V215 M757.6 189.5 V215 M764.1 189.5 V215 M770.6 189.5 V215 M777.1 189.5 V215 M783.5 189.5 V215 M790.0 189.5 V215" stroke="#858585" stroke-width="1.9"/>
<path d="M660.6 213.5 V225.8 M667.1 213.5 V225.8 M673.5 213.5 V225.8 M680.0 213.5 V225.8 M686.5 213.5 V225.8 M693.0 213.5 V225.8 M699.4 213.5 V225.8 M705.9 213.5 V225.8 M712.4 213.5 V225.8 M718.8 213.5 V225.8 M725.3 213.5 V225.8 M731.8 213.5 V225.8 M738.2 213.5 V225.8 M744.7 213.5 V225.8 M751.2 213.5 V225.8 M757.6 213.5 V225.8 M764.1 213.5 V225.8 M770.6 213.5 V225.8 M777.1 213.5 V225.8 M783.5 213.5 V225.8 M790.0 213.5 V225.8" stroke="#1a1a1a" stroke-width="2.5"/>
<path d="M662.0 195.6 Q665.5 192.6 667.0 188.6 M668.5 195.6 Q671.9 192.6 673.4 188.6 M674.9 195.6 Q678.4 192.6 679.9 188.6 M681.4 195.6 Q684.9 192.6 686.4 188.6 M687.9 195.6 Q691.4 192.6 692.9 188.6 M694.4 195.6 Q697.8 192.6 699.3 188.6 M700.8 195.6 Q704.3 192.6 705.8 188.6 M707.3 195.6 Q710.8 192.6 712.3 188.6 M713.8 195.6 Q717.2 192.6 718.7 188.6 M720.2 195.6 Q723.7 192.6 725.2 188.6 M726.7 195.6 Q730.2 192.6 731.7 188.6 M733.2 195.6 Q736.6 192.6 738.1 188.6 M739.6 195.6 Q743.1 192.6 744.6 188.6 M746.1 195.6 Q749.6 192.6 751.1 188.6 M752.6 195.6 Q756.0 192.6 757.5 188.6 M759.0 195.6 Q762.5 192.6 764.0 188.6 M765.5 195.6 Q769.0 192.6 770.5 188.6 M772.0 195.6 Q775.5 192.6 777.0 188.6 M778.5 195.6 Q781.9 192.6 783.4 188.6 M784.9 195.6 Q788.4 192.6 789.9 188.6 M791.4 195.6 Q797.2 192.6 798.7 188.6" fill="none" stroke="#000" stroke-width="2.7" stroke-linecap="round"/>
<path d="M1059.3 189.5 V215 M1065.5 189.5 V215 M1071.7 189.5 V215 M1077.9 189.5 V215 M1084.1 189.5 V215 M1090.3 189.5 V215 M1096.5 189.5 V215 M1102.7 189.5 V215 M1108.9 189.5 V215 M1115.1 189.5 V215 M1121.3 189.5 V215 M1127.5 189.5 V215 M1133.7 189.5 V215 M1139.9 189.5 V215 M1146.1 189.5 V215 M1152.3 189.5 V215 M1158.5 189.5 V215 M1164.7 189.5 V215 M1170.9 189.5 V215 M1177.1 189.5 V215 M1183.3 189.5 V215 M1189.5 189.5 V215 M1195.7 189.5 V215 M1201.9 189.5 V215" stroke="#858585" stroke-width="1.9"/>
<path d="M1059.3 213.5 V225.8 M1065.5 213.5 V225.8 M1071.7 213.5 V225.8 M1077.9 213.5 V225.8 M1084.1 213.5 V225.8 M1090.3 213.5 V225.8 M1096.5 213.5 V225.8 M1102.7 213.5 V225.8 M1108.9 213.5 V225.8 M1115.1 213.5 V225.8 M1121.3 213.5 V225.8 M1127.5 213.5 V225.8 M1133.7 213.5 V225.8 M1139.9 213.5 V225.8 M1146.1 213.5 V225.8 M1152.3 213.5 V225.8 M1158.5 213.5 V225.8 M1164.7 213.5 V225.8 M1170.9 213.5 V225.8 M1177.1 213.5 V225.8 M1183.3 213.5 V225.8 M1189.5 213.5 V225.8 M1195.7 213.5 V225.8 M1201.9 213.5 V225.8" stroke="#1a1a1a" stroke-width="2.5"/>
<path d="M1060.7 195.6 Q1063.9 192.6 1065.4 188.6 M1066.9 195.6 Q1070.1 192.6 1071.6 188.6 M1073.1 195.6 Q1076.3 192.6 1077.8 188.6 M1079.3 195.6 Q1082.5 192.6 1084.0 188.6 M1085.5 195.6 Q1088.7 192.6 1090.2 188.6 M1091.7 195.6 Q1094.9 192.6 1096.4 188.6 M1097.9 195.6 Q1101.1 192.6 1102.6 188.6 M1104.1 195.6 Q1107.3 192.6 1108.8 188.6 M1110.3 195.6 Q1113.5 192.6 1115.0 188.6 M1116.5 195.6 Q1119.7 192.6 1121.2 188.6 M1122.7 195.6 Q1125.9 192.6 1127.4 188.6 M1128.9 195.6 Q1132.1 192.6 1133.6 188.6 M1135.1 195.6 Q1138.3 192.6 1139.8 188.6 M1141.3 195.6 Q1144.5 192.6 1146.0 188.6 M1147.5 195.6 Q1150.7 192.6 1152.2 188.6 M1153.7 195.6 Q1156.9 192.6 1158.4 188.6 M1159.9 195.6 Q1163.1 192.6 1164.6 188.6 M1166.1 195.6 Q1169.3 192.6 1170.8 188.6 M1172.3 195.6 Q1175.5 192.6 1177.0 188.6 M1178.5 195.6 Q1181.7 192.6 1183.2 188.6 M1184.7 195.6 Q1187.9 192.6 1189.4 188.6 M1190.9 195.6 Q1194.1 192.6 1195.6 188.6 M1197.1 195.6 Q1200.3 192.6 1201.8 188.6 M1203.3 195.6 Q1206.4 192.6 1207.9 188.6" fill="none" stroke="#000" stroke-width="2.7" stroke-linecap="round"/>
<path d="M799 194 L800 238 L805 241.5 L809 254.5 L812 256" fill="none" stroke="#000" stroke-linejoin="round" stroke-width="3"/>
<path d="M810.0 256.6 L811.5 256.4 L813.0 256.2 L814.5 256.0 L816.0 255.9 L817.5 256.7 L819.0 256.7 L820.5 256.5 L822.1 256.7 L823.6 256.3 L825.1 256.2 L826.6 256.3 L828.1 256.9 L829.6 255.9 L831.1 256.5 L832.6 256.2 L834.1 256.8 L835.6 256.3 L837.1 256.3 L838.6 256.4 L840.1 256.5 L841.6 256.8 L843.1 256.3 L844.7 256.9 L846.2 256.0 L847.7 256.2 L849.2 256.0 L850.7 256.0 L852.2 256.8 L853.7 256.8 L855.2 256.1 L856.7 256.2 L858.2 256.4 L859.7 256.8 L861.2 256.9 L862.7 256.8 L864.2 256.7 L865.8 256.1 L867.3 256.4 L868.8 256.2 L870.3 256.6 L871.8 256.6 L873.3 256.2 L874.8 256.3 L876.3 256.9 L877.8 256.0 L879.3 257.0 L880.8 257.1 L882.3 257.1 L883.8 256.5 L885.3 256.7 L886.8 256.7 L888.4 256.8 L889.9 257.2 L891.4 256.8 L892.9 256.4 L894.4 257.1 L895.9 256.6 L897.4 256.8 L898.9 256.9 L900.4 256.0 L901.9 257.0 L903.4 256.8 L904.9 256.6 L906.4 256.7 L907.9 256.6 L909.4 256.3 L911.0 256.7 L912.5 256.1 L914.0 256.7 L915.5 256.9 L917.0 256.6 L918.5 256.8 L920.0 257.2 L921.5 257.2 L923.0 256.3 L924.5 257.1 L926.0 256.9 L927.5 256.2 L929.0 256.6 L930.5 256.4 L932.1 256.2 L933.6 256.8 L935.1 257.3 L936.6 256.5 L938.1 257.2 L939.6 257.0 L941.1 256.3 L942.6 257.2 L944.1 256.9 L945.6 257.3 L947.1 257.0 L948.6 257.1 L950.1 256.6 L951.6 257.2 L953.1 257.3 L954.7 257.2 L956.2 256.7 L957.7 257.1 L959.2 256.8 L960.7 256.3 L962.2 256.3 L963.7 256.3 L965.2 256.5 L966.7 256.4 L968.2 256.8 L969.7 257.1 L971.2 256.9 L972.7 256.7 L974.2 257.0 L975.7 256.6 L977.3 256.8 L978.8 257.2 L980.3 256.7 L981.8 256.5 L983.3 257.3 L984.8 257.1 L986.3 256.7 L987.8 256.7 L989.3 256.9 L990.8 257.0 L992.3 256.6 L993.8 256.3 L995.3 256.6 L996.8 257.2 L998.4 256.5 L999.9 256.9 L1001.4 256.6 L1002.9 256.6 L1004.4 256.5 L1005.9 256.8 L1007.4 256.5 L1008.9 256.4 L1010.4 256.5 L1011.9 256.5 L1013.4 256.9 L1014.9 256.4 L1016.4 256.4 L1017.9 256.9 L1019.4 256.9 L1021.0 257.2 L1022.5 256.4 L1024.0 256.9 L1025.5 256.9 L1027.0 256.4 L1028.5 257.6 L1030.0 256.7 L1031.5 257.0" fill="none" stroke="#000" stroke-linejoin="round" stroke-width="3.9"/>
<path d="M1032.6 257 V217" stroke="#333" stroke-width="1.8"/>
<path d="M1032.5 218 L1058.7 189.5" fill="none" stroke="#000" stroke-linejoin="round" stroke-width="3.4"/>
<path d="M567.0 299.1 L568.5 299.6 L570.0 299.2 L571.6 299.7 L573.1 299.4 L574.6 299.1 L576.1 299.1 L577.7 299.9 L579.2 299.3 L580.7 299.9 L582.2 299.6 L583.7 300.1 L585.3 299.4 L586.8 299.3 L588.3 299.3 L589.8 300.0 L591.4 299.8 L592.9 299.4 L594.4 299.1 L595.9 299.8 L597.4 300.2 L599.0 299.7 L600.5 299.0 L602.0 299.0 L603.5 299.1 L605.1 299.2 L606.6 299.0 L608.1 299.1 L609.6 299.8 L611.1 300.1 L612.7 299.2 L614.2 300.2 L615.7 299.6 L617.2 300.0 L618.8 300.1 L620.3 300.1 L621.8 299.0 L623.3 299.4 L624.8 299.7 L626.4 300.1 L627.9 299.1 L629.4 299.4 L630.9 300.0 L632.5 299.1 L634.0 299.5 L635.5 299.4 L636.5 298.7 L637.6 297.9 L638.6 295.9 L639.7 295.4 L640.7 294.3 L641.8 293.3 L642.8 291.9 L643.9 291.2 L644.9 289.4 L646.0 288.4 L647.0 287.0 L648.1 286.6 L649.1 285.1 L650.2 283.7 L651.2 282.5 L652.3 282.1 L653.3 280.8 L654.4 279.8 L655.4 278.3 L656.5 277.3 L657.5 275.8 L658.6 275.4 L659.6 274.0" fill="none" stroke="#000" stroke-linejoin="round" stroke-width="3.8"/>
<path d="M660.0 279.7 L663.8 273.3 L666.4 279.7 L670.2 273.3 L672.8 279.7 L676.6 273.3 L679.2 279.7 L683.0 273.3 L685.6 279.7 L689.4 273.3 L692.0 279.7 L695.8 273.3 L698.4 279.7 L702.2 273.3 L704.8 279.7 L708.6 273.3 L711.2 279.7 L715.0 273.3 L717.6 279.7 L721.4 273.3 L724.0 279.7 L727.8 273.3 L730.4 279.7 L734.2 273.3 L736.8 279.7 L740.6 273.3 L743.2 279.7 L747.0 273.3 L749.6 279.7 L753.4 273.3 L756.0 279.7 L759.8 273.3 L762.4 279.7 L766.2 273.3 L768.8 279.7 L772.6 273.3 L775.2 279.7 L779.0 273.3 L781.6 279.7 L785.4 273.3 L788.0 279.7 L791.8 273.3 L794.4 279.7 L798.2 273.3" fill="none" stroke="#000" stroke-linejoin="round" stroke-width="3.3"/>
<path d="M799.0 275.3 L799.5 278.0 L800.0 280.4 L801.5 280.6 L803.0 280.0 L804.5 280.5 L806.1 281.7 L807.6 281.7 L809.1 282.3 L810.6 282.6 L812.1 282.4 L813.6 283.3 L815.2 283.4 L816.7 283.1 L818.2 283.5 L819.7 283.3 L821.2 284.1 L822.7 285.2 L824.2 284.3 L825.8 285.2 L827.3 284.9 L828.8 285.2 L830.3 286.3 L831.8 286.0 L833.3 286.0 L834.8 286.5 L836.4 287.5 L837.9 287.7 L839.4 287.2 L840.9 287.8 L842.4 289.1 L843.9 288.4 L845.5 289.2 L847.0 289.3 L848.5 290.1 L850.0 290.1 L851.5 290.7 L853.0 290.6 L854.5 290.4 L856.1 290.6 L857.6 290.7 L859.1 292.1 L860.6 291.3 L862.1 291.5 L863.6 293.0 L865.1 292.2 L866.7 293.5 L868.2 292.6 L869.7 293.4 L871.2 293.3 L872.7 294.4 L874.2 294.4 L875.7 294.7 L877.3 295.1 L878.8 295.6 L880.3 295.1 L881.8 295.7 L883.3 295.8 L884.8 295.6 L886.3 296.8 L887.9 296.8 L889.4 297.3 L890.9 296.8 L892.4 297.5 L893.9 297.7 L895.4 298.3 L896.9 297.6 L898.5 298.3 L900.0 298.7 L901.5 298.4 L903.0 299.4 L904.5 299.6 L906.0 299.2 L907.5 299.5 L909.0 299.5 L910.6 299.0 L912.1 299.2 L913.6 300.1 L915.1 299.2 L916.6 299.3 L918.1 298.8 L919.6 299.0 L921.1 299.0 L922.6 300.0 L924.2 299.8 L925.7 300.0 L927.2 300.1 L928.7 299.6 L930.2 300.1 L931.7 299.5 L933.2 299.4 L934.7 300.1 L936.3 300.1 L937.8 300.2 L939.3 299.5 L940.8 299.9 L942.3 299.4 L943.8 300.3 L945.3 300.2 L946.8 299.3 L948.3 300.2 L949.9 299.2 L951.4 299.1 L952.9 300.0 L954.4 299.4 L955.9 299.7 L957.4 299.9 L958.9 299.0 L960.4 300.0 L961.9 299.4 L963.5 299.6 L965.0 299.5 L966.5 300.1 L968.0 300.1 L969.5 299.5 L971.0 299.2 L972.5 299.5 L974.0 299.7 L975.6 299.2 L977.1 299.3 L978.6 300.2 L980.1 300.1 L981.6 300.5 L983.1 300.5 L984.6 300.4 L986.1 299.7 L987.6 299.4 L989.2 299.6 L990.7 299.8 L992.2 299.9 L993.7 300.0 L995.2 299.7 L996.7 300.4 L998.2 299.7 L999.7 299.9 L1001.2 300.5 L1002.8 300.4 L1004.3 299.7 L1005.8 299.6 L1007.3 300.4 L1008.8 299.3 L1010.3 299.5 L1011.8 300.1 L1013.3 300.1 L1014.9 299.6 L1016.4 299.4 L1017.9 299.7 L1019.4 300.5 L1020.9 300.1 L1022.4 300.8 L1023.9 300.5 L1025.4 300.8 L1026.9 299.5 L1028.5 299.7 L1030.0 299.5 L1031.5 300.1 L1033.0 300.0 L1034.5 299.6 L1035.6 299.2 L1036.6 297.5 L1037.7 296.7 L1038.7 295.6 L1039.8 295.3 L1040.8 293.6 L1041.9 292.3 L1043.0 291.0 L1044.0 290.4 L1045.1 289.6 L1046.1 288.6 L1047.2 287.9 L1048.2 286.7 L1049.3 284.8 L1050.3 283.6 L1051.4 283.4 L1052.5 282.3 L1053.5 280.9 L1054.6 280.3 L1055.6 278.8 L1056.7 277.3 L1057.7 276.1 L1058.8 275.5" fill="none" stroke="#000" stroke-linejoin="round" stroke-width="3.8"/>
<path d="M1059.0 279.7 L1062.7 273.3 L1065.1 279.7 L1068.8 273.3 L1071.2 279.7 L1074.9 273.3 L1077.3 279.7 L1081.0 273.3 L1083.4 279.7 L1087.1 273.3 L1089.5 279.7 L1093.2 273.3 L1095.6 279.7 L1099.3 273.3 L1101.7 279.7 L1105.4 273.3 L1107.8 279.7 L1111.5 273.3 L1113.9 279.7 L1117.6 273.3 L1120.0 279.7 L1123.7 273.3 L1126.1 279.7 L1129.8 273.3 L1132.2 279.7 L1135.9 273.3 L1138.3 279.7 L1142.0 273.3 L1144.4 279.7 L1148.1 273.3 L1150.5 279.7 L1154.2 273.3 L1156.6 279.7 L1160.3 273.3 L1162.7 279.7 L1166.4 273.3 L1168.8 279.7 L1172.5 273.3 L1174.9 279.7 L1178.6 273.3 L1181.0 279.7 L1184.7 273.3 L1187.1 279.7 L1190.8 273.3 L1193.2 279.7 L1196.9 273.3 L1199.3 279.7 L1203.0 273.3 L1205.4 279.7 L1209.1 273.3" fill="none" stroke="#000" stroke-linejoin="round" stroke-width="3.3"/>
<path d="M567.0 366.0 L568.5 366.5 L570.0 366.7 L571.6 366.7 L573.1 366.4 L574.6 366.5 L576.1 366.7 L577.6 366.7 L579.1 366.5 L580.7 366.3 L582.2 366.4 L583.7 366.1 L585.2 366.1 L586.7 366.5 L588.3 366.8 L589.8 366.4 L591.3 366.3 L592.8 366.3 L594.3 366.4 L595.8 366.6 L597.4 366.4 L598.9 366.8 L600.4 366.1 L601.9 366.3 L603.4 366.4 L605.0 366.3 L606.5 366.7 L608.0 366.7 L609.5 366.7 L611.0 366.5 L612.5 366.0 L614.1 366.5 L615.6 366.4 L617.1 366.4 L618.6 366.2 L620.1 366.6 L621.6 366.7 L623.2 366.1 L624.7 366.5 L626.2 366.3 L627.7 366.4 L629.2 366.7 L630.8 366.8 L632.3 366.5 L633.8 366.2 L635.3 366.7 L636.8 366.1 L638.3 366.3 L639.9 366.7 L641.4 366.3 L642.9 366.2 L644.4 366.8 L645.9 366.8 L647.5 366.3 L649.0 366.3 L650.5 366.2 L652.0 366.1 L653.5 366.2 L655.0 366.8 L656.6 366.1 L658.1 366.2 L659.6 366.4" fill="none" stroke="#000" stroke-linejoin="round" stroke-width="3.6"/>
<path d="M659.9 366.3 V359" stroke="#000" stroke-width="1.8"/>
<path d="M660.0 360.6 L663.8 354.0 L666.4 360.6 L670.2 354.0 L672.8 360.6 L676.6 354.0 L679.2 360.6 L683.0 354.0 L685.6 360.6 L689.4 354.0 L692.0 360.6 L695.8 354.0 L698.4 360.6 L702.2 354.0 L704.8 360.6 L708.6 354.0 L711.2 360.6 L715.0 354.0 L717.6 360.6 L721.4 354.0 L724.0 360.6 L727.8 354.0 L730.4 360.6 L734.2 354.0 L736.8 360.6 L740.6 354.0 L743.2 360.6 L747.0 354.0 L749.6 360.6 L753.4 354.0 L756.0 360.6 L759.8 354.0 L762.4 360.6 L766.2 354.0 L768.8 360.6 L772.6 354.0 L775.2 360.6 L779.0 354.0 L781.6 360.6 L785.4 354.0 L788.0 360.6 L791.8 354.0 L794.4 360.6 L798.2 354.0" fill="none" stroke="#000" stroke-linejoin="round" stroke-width="3.3"/>
<path d="M799.0 357.1 L799.5 358.7 L800.0 361.0 L801.5 361.6 L803.0 362.0 L804.5 362.0 L806.1 362.5 L807.6 361.7 L809.1 362.3 L810.6 363.6 L812.1 362.6 L813.6 363.1 L815.2 363.7 L816.7 363.7 L818.2 364.3 L819.7 363.9 L821.2 364.4 L822.7 365.7 L824.2 364.9 L825.8 366.2 L827.3 365.5 L828.8 366.9 L830.3 366.7 L831.8 366.9 L833.3 366.5 L834.8 366.6 L836.4 367.9 L837.9 367.4 L839.4 367.7 L840.9 368.8 L842.4 369.2 L843.9 368.3 L845.5 369.8 L847.0 369.5 L848.5 369.6 L850.0 369.4 L851.5 370.1 L853.0 371.2 L854.5 370.5 L856.1 370.5 L857.6 370.8 L859.1 371.0 L860.6 371.6 L862.1 372.6 L863.6 371.7 L865.1 372.1 L866.7 373.4 L868.2 373.8 L869.7 374.0 L871.2 373.2 L872.7 373.7 L874.2 374.7 L875.7 374.4 L877.3 374.9 L878.8 374.6 L880.3 374.5 L881.8 375.2 L883.3 376.0 L884.8 376.3 L886.3 376.3 L887.9 376.4 L889.4 376.7 L890.9 376.9 L892.4 377.2 L893.9 377.9 L895.4 377.3 L896.9 378.1 L898.5 378.8 L900.0 379.0 L901.5 378.3 L903.0 379.0" fill="none" stroke="#000" stroke-linejoin="round" stroke-width="3.8"/>
<path d="M904 379 V366.5" stroke="#000" stroke-width="1.8"/>
<path d="M904.0 367.1 L905.5 367.0 L907.0 366.4 L908.5 366.5 L910.0 366.5 L911.5 366.3 L913.0 367.1 L914.5 366.6 L916.0 367.0 L917.5 366.4 L919.0 366.3 L920.5 367.0 L922.0 366.9 L923.5 367.1 L925.0 366.8 L926.5 366.7 L928.0 366.9 L929.5 366.4 L931.1 366.7 L932.6 366.7 L934.1 366.4 L935.6 366.8 L937.1 366.6 L938.6 366.7 L940.1 366.6 L941.6 366.6 L943.1 366.6 L944.6 366.8 L946.1 367.1 L947.6 367.0 L949.1 367.0 L950.6 367.0 L952.1 366.5 L953.6 367.1 L955.1 366.5 L956.6 366.4 L958.1 366.7 L959.6 366.9 L961.1 366.6 L962.6 366.8 L964.1 366.5 L965.6 367.1 L967.1 366.7 L968.6 366.7 L970.1 366.7 L971.6 367.0 L973.1 367.1 L974.6 366.7 L976.1 366.7 L977.6 366.8 L979.1 366.4 L980.6 366.6 L982.2 367.0 L983.7 366.9 L985.2 366.3 L986.7 367.0 L988.2 366.6 L989.7 367.1 L991.2 366.6 L992.7 366.5 L994.2 366.7 L995.7 367.0 L997.2 366.6 L998.7 367.0 L1000.2 366.9 L1001.7 366.6 L1003.2 366.5 L1004.7 366.7 L1006.2 366.6 L1007.7 366.6 L1009.2 366.8 L1010.7 367.0 L1012.2 366.8 L1013.7 366.4 L1015.2 366.5 L1016.7 366.6 L1018.2 366.8 L1019.7 366.4 L1021.2 366.4 L1022.7 366.6 L1024.2 366.5 L1025.7 366.3 L1027.2 366.7 L1028.7 367.0 L1030.2 366.7 L1031.7 366.9 L1033.3 367.0 L1034.8 367.0 L1036.3 367.0 L1037.8 366.7 L1039.3 366.8 L1040.8 366.4 L1042.3 367.0 L1043.8 366.6 L1045.3 366.7 L1046.8 367.0 L1048.3 366.5 L1049.8 366.5 L1051.3 367.0 L1052.8 366.8 L1054.3 366.4 L1055.8 366.3 L1057.3 366.6 L1058.8 366.7" fill="none" stroke="#000" stroke-linejoin="round" stroke-width="3.6"/>
<path d="M1058.8 366.8 V359" stroke="#000" stroke-width="1.8"/>
<path d="M1059.0 360.8 L1062.7 354.6 L1065.1 360.8 L1068.8 354.6 L1071.2 360.8 L1074.9 354.6 L1077.3 360.8 L1081.0 354.6 L1083.4 360.8 L1087.1 354.6 L1089.5 360.8 L1093.2 354.6 L1095.6 360.8 L1099.3 354.6 L1101.7 360.8 L1105.4 354.6 L1107.8 360.8 L1111.5 354.6 L1113.9 360.8 L1117.6 354.6 L1120.0 360.8 L1123.7 354.6 L1126.1 360.8 L1129.8 354.6 L1132.2 360.8 L1135.9 354.6 L1138.3 360.8 L1142.0 354.6 L1144.4 360.8 L1148.1 354.6 L1150.5 360.8 L1154.2 354.6 L1156.6 360.8 L1160.3 354.6 L1162.7 360.8 L1166.4 354.6 L1168.8 360.8 L1172.5 354.6 L1174.9 360.8 L1178.6 354.6 L1181.0 360.8 L1184.7 354.6 L1187.1 360.8 L1190.8 354.6 L1193.2 360.8 L1196.9 354.6 L1199.3 360.8 L1203.0 354.6 L1205.4 360.8 L1209.1 354.6" fill="none" stroke="#000" stroke-linejoin="round" stroke-width="3.3"/>
</svg>
</body></html>
